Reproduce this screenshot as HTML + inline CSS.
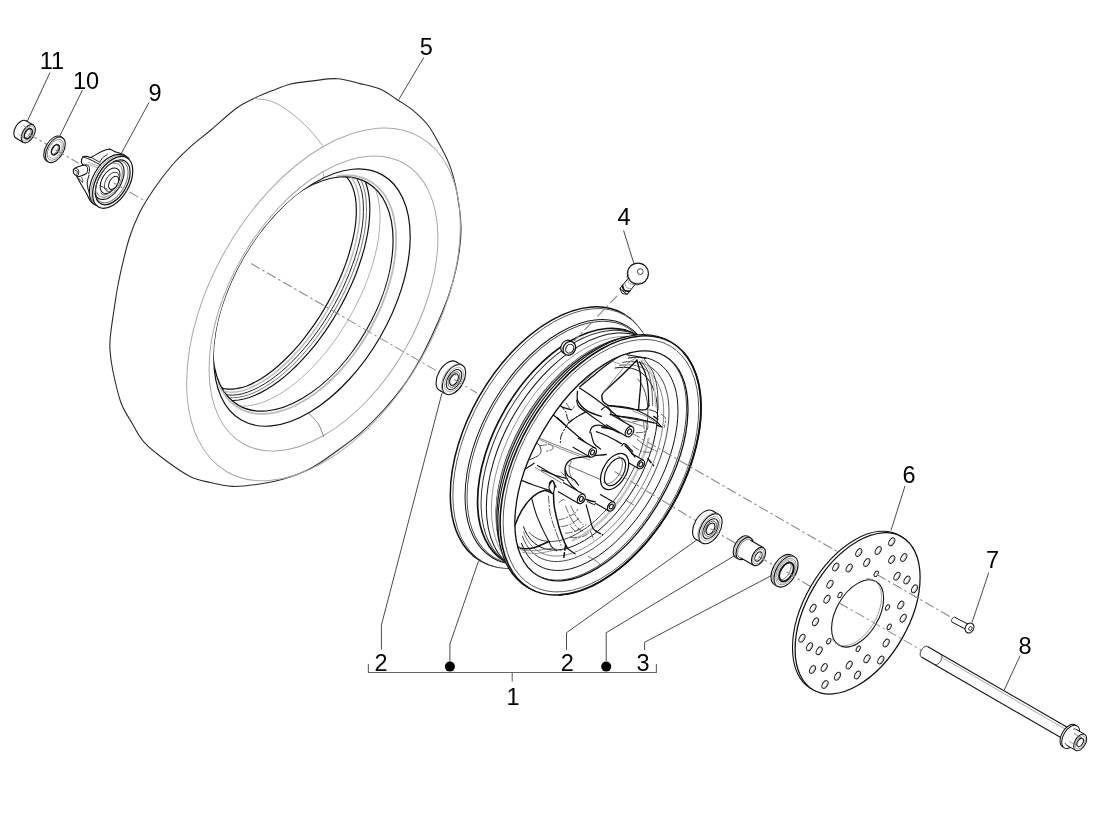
<!DOCTYPE html>
<html><head><meta charset="utf-8"><title>Front wheel</title>
<style>html,body{margin:0;padding:0;background:#fff;}body{width:1100px;height:829px;overflow:hidden;font-family:"Liberation Sans",Arial,sans-serif;}svg{display:block;}</style></head>
<body>
<svg width="1100" height="829" viewBox="0 0 1100 829" font-family="'Liberation Sans', Arial, sans-serif" fill="#000">
<path d="M110.0,350.0C109.6,344.2 109.8,341.7 110.5,335.0C111.2,328.3 112.6,319.2 114.0,310.0C115.4,300.8 116.5,291.8 119.0,280.0C121.5,268.2 125.5,250.4 129.0,239.0C132.5,227.6 135.8,220.3 140.0,211.8C144.2,203.3 149.1,196.1 154.5,188.2C159.9,180.3 166.6,171.5 172.7,164.5C178.8,157.5 184.5,152.2 190.9,146.4C197.3,140.7 203.3,136.4 210.9,130.0C218.5,123.6 229.1,113.5 236.4,108.2C243.7,102.9 248.4,101.2 254.5,98.2C260.6,95.2 266.6,92.9 272.7,90.5C278.8,88.1 284.2,85.6 290.9,84.0C297.6,82.4 305.0,81.8 312.7,80.9C320.4,80.0 329.4,78.2 337.3,78.7C345.2,79.2 352.9,81.9 360.0,83.6C367.1,85.3 373.6,86.3 380.0,89.1C386.4,91.9 392.9,96.9 398.5,100.5C404.1,104.1 408.7,106.7 413.6,110.9C418.6,115.1 424.0,120.0 428.2,125.5C432.4,130.9 435.5,137.2 439.0,143.6C442.5,149.9 446.2,156.6 449.0,163.6C451.8,170.6 453.8,177.9 455.5,185.5C457.2,193.1 458.6,202.0 459.5,209.0C460.4,216.0 460.9,221.3 461.0,227.3C461.1,233.3 460.8,238.3 460.0,245.0C459.2,251.7 458.2,259.1 456.4,267.3C454.6,275.6 452.0,285.4 449.0,294.5C446.0,303.6 442.4,312.1 438.2,321.8C434.0,331.5 428.0,344.2 423.6,352.7C419.2,361.2 415.6,367.1 412.0,373.0C408.4,378.9 406.5,382.0 401.8,388.2C397.1,394.4 390.3,402.7 383.6,410.0C376.9,417.3 369.4,425.1 361.8,431.8C354.2,438.5 346.7,443.9 338.2,450.0C329.7,456.1 320.1,463.4 311.0,468.2C301.9,473.0 292.7,476.3 283.6,479.0C274.5,481.7 264.9,483.3 256.4,484.5C247.9,485.7 240.4,486.7 232.7,486.4C225.0,486.1 217.1,484.2 210.0,482.5C202.9,480.8 197.3,480.0 190.0,476.4C182.7,472.8 174.0,466.6 166.4,461.0C158.8,455.4 150.3,449.1 144.5,442.7C138.7,436.3 135.7,429.4 131.8,422.7C127.9,416.0 124.2,411.5 121.0,402.7C117.8,393.9 114.5,378.8 112.7,370.0C110.9,361.2 110.4,355.8 110.0,350.0Z" fill="#fff" stroke="#2a2a2a" stroke-width="1.1" stroke-linejoin="round" stroke-linecap="round" />
<ellipse cx="323.5" cy="304.4" rx="111.90" ry="193.20" transform="rotate(30 323.5 304.4)" fill="none" stroke="#a8a8a8" stroke-width="1.0" />
<ellipse cx="323.5" cy="303.5" rx="93.60" ry="161.60" transform="rotate(30 323.5 303.5)" fill="none" stroke="#a8a8a8" stroke-width="1.0" />
<path d="M254.5,98.5C257.5,99.0 266.6,99.4 272.7,101.8C278.8,104.2 284.8,108.2 290.9,112.7C296.9,117.2 303.7,123.5 309.0,129.0C314.3,134.5 320.4,142.8 322.7,145.5" fill="none" stroke="#a8a8a8" stroke-width="1.0" stroke-linejoin="round" stroke-linecap="round" />
<path d="M322.7,171.3C322.9,172.2 323.8,175.0 323.6,176.4C323.4,177.8 321.9,179.0 321.5,179.5" fill="none" stroke="#a8a8a8" stroke-width="0.9" stroke-linejoin="round" stroke-linecap="round" />
<path d="M303.6,399.0C304.2,401.0 304.9,406.9 307.3,411.0C309.7,415.1 315.5,419.4 318.2,423.6C320.9,427.8 322.7,434.3 323.6,436.4" fill="none" stroke="#777" stroke-width="0.9" stroke-linejoin="round" stroke-linecap="round" />
<ellipse cx="312.0" cy="297.6" rx="78.70" ry="141.40" transform="rotate(30 312.0 297.6)" fill="#fff" stroke="#111" stroke-width="1.2" />
<clipPath id="hole1"><ellipse cx="312.0" cy="297.6" rx="78.70" ry="141.40" transform="rotate(30 312.0 297.6)"/></clipPath>
<g clip-path="url(#hole1)">
<polyline points="217.9,381.7 220.2,387.3 223.0,392.3 226.2,396.9 229.8,401.0 233.7,404.5 238.0,407.5 242.6,410.0 247.6,411.8 252.8,413.1 258.2,413.8 263.9,413.9 269.8,413.4 275.9,412.4 282.1,410.7 288.4,408.5 294.8,405.7 301.3,402.3 307.7,398.5 314.2,394.1 320.6,389.2 326.9,383.8 333.1,378.0 339.2,371.8 345.0,365.2 350.7,358.3 356.2,351.0 361.4,343.5 366.3,335.7 370.9,327.7 375.2,319.5 379.1,311.3 382.7,302.9 385.9,294.5 388.6,286.1 391.0,277.7 392.9,269.5 394.4,261.3 395.4,253.3 396.0,245.6 396.1,238.0 395.8,230.8 395.0,223.8 393.8,217.2 392.2,211.0 390.0,205.2 387.5,199.9 384.6,195.0 381.2,190.6 377.5,186.8 373.4,183.4 369.0,180.7 364.3,178.4 359.2,176.8 353.9,175.7 348.3,175.3 342.6,175.4 336.6,176.1" fill="none" stroke="#bbb" stroke-width="1.8" />
<ellipse cx="302.9" cy="294.0" rx="73.00" ry="128.60" transform="rotate(30 302.9 294.0)" fill="#fff" stroke="#111" stroke-width="1.2" />
</g>
<clipPath id="hole"><ellipse cx="302.9" cy="294.0" rx="73.00" ry="128.60" transform="rotate(30 302.9 294.0)"/></clipPath>
<g clip-path="url(#hole)">
<polyline points="208.6,383.2 210.9,387.9 213.7,392.1 216.8,395.8 220.3,399.0 224.2,401.6 228.4,403.6 232.9,405.1 237.6,405.9 242.7,406.2 248.0,405.9 253.4,405.0 259.1,403.5 264.9,401.5 270.9,398.8 277.0,395.7 283.1,391.9 289.3,387.7 295.4,383.0 301.6,377.7 307.7,372.1 313.8,366.0 319.7,359.5 325.5,352.6 331.1,345.5 336.5,338.0 341.7,330.3 346.7,322.3 351.4,314.2 355.8,305.9 359.9,297.5 363.7,289.1 367.1,280.6 370.1,272.2 372.8,263.8 375.0,255.5 376.9,247.4 378.3,239.4 379.3,231.7 379.9,224.2 380.1,217.1 379.8,210.2 379.1,203.8 378.0,197.7 376.4,192.0 374.4,186.8 372.1,182.1 369.3,177.9 366.2,174.2 362.7,171.0 358.8,168.4 354.6,166.4 350.1,164.9 345.4,164.1 340.3,163.8 335.0,164.1" fill="none" stroke="#999" stroke-width="0.8" />
<polyline points="201.1,378.4 203.3,383.0 205.9,387.1 208.8,390.7 212.1,393.8 215.8,396.3 219.8,398.2 224.1,399.5 228.7,400.3 233.5,400.5 238.6,400.0 243.9,399.0 249.4,397.5 255.0,395.3 260.8,392.6 266.7,389.3 272.7,385.5 278.7,381.2 284.8,376.4 290.8,371.1 296.9,365.3 302.8,359.2 308.6,352.7 314.4,345.8 319.9,338.6 325.3,331.1 330.5,323.3 335.5,315.3 340.1,307.2 344.6,298.9 348.7,290.6 352.5,282.2 356.0,273.7 359.1,265.3 361.8,257.0 364.2,248.8 366.1,240.7 367.7,232.8 368.8,225.2 369.5,217.8 369.8,210.7 369.7,204.0 369.2,197.6 368.2,191.6 366.8,186.1 365.1,181.0 362.9,176.4 360.3,172.3 357.4,168.7 354.1,165.6 350.4,163.1 346.4,161.2 342.1,159.9 337.5,159.1 332.7,158.9 327.6,159.4" fill="none" stroke="#111" stroke-width="1.2" />
<polyline points="201.9,376.5 204.0,381.0 206.5,385.0 209.3,388.5 212.5,391.4 216.0,393.8 219.8,395.7 224.0,396.9 228.4,397.7 233.1,397.8 238.0,397.4 243.2,396.3 248.5,394.8 254.0,392.6 259.7,389.9 265.4,386.7 271.2,382.9 277.1,378.7 283.0,373.9 288.9,368.7 294.8,363.1 300.5,357.0 306.3,350.6 311.8,343.8 317.3,336.7 322.6,329.4 327.6,321.8 332.5,314.0 337.1,306.0 341.4,297.9 345.5,289.7 349.2,281.4 352.6,273.2 355.7,265.0 358.4,256.8 360.8,248.8 362.7,240.9 364.3,233.2 365.4,225.7 366.2,218.5 366.5,211.5 366.4,204.9 366.0,198.7 365.1,192.9 363.8,187.5 362.1,182.5 360.0,178.0 357.5,174.0 354.7,170.5 351.5,167.6 348.0,165.2 344.2,163.3 340.0,162.1 335.6,161.3 330.9,161.2 326.0,161.6" fill="none" stroke="#555" stroke-width="0.8" />
<polyline points="202.7,374.5 204.7,378.9 207.0,382.8 209.8,386.2 212.8,389.0 216.2,391.4 220.0,393.1 224.0,394.4 228.3,395.0 232.8,395.1 237.6,394.7 242.6,393.7 247.8,392.1 253.2,389.9 258.6,387.3 264.2,384.1 269.9,380.4 275.6,376.2 281.4,371.5 287.2,366.4 292.9,360.8 298.5,354.9 304.1,348.6 309.6,341.9 314.9,335.0 320.1,327.7 325.0,320.3 329.8,312.6 334.3,304.8 338.6,296.8 342.6,288.8 346.2,280.7 349.6,272.6 352.6,264.5 355.3,256.6 357.6,248.7 359.6,240.9 361.1,233.4 362.3,226.1 363.1,219.0 363.4,212.3 363.4,205.8 363.0,199.7 362.2,194.0 360.9,188.7 359.3,183.9 357.3,179.5 355.0,175.6 352.2,172.2 349.2,169.4 345.8,167.0 342.0,165.3 338.0,164.0 333.7,163.4 329.2,163.3 324.4,163.7" fill="none" stroke="#222" stroke-width="1.0" />
<polyline points="203.4,372.2 205.3,376.5 207.6,380.2 210.2,383.5 213.2,386.3 216.4,388.6 220.0,390.3 223.9,391.5 228.1,392.1 232.5,392.2 237.1,391.7 242.0,390.7 247.0,389.1 252.2,387.0 257.5,384.4 263.0,381.2 268.5,377.6 274.1,373.5 279.7,368.9 285.3,363.9 290.8,358.5 296.3,352.6 301.8,346.5 307.1,340.0 312.3,333.2 317.3,326.1 322.2,318.8 326.8,311.3 331.2,303.7 335.4,295.9 339.3,288.0 342.9,280.2 346.2,272.3 349.2,264.4 351.8,256.6 354.1,248.9 356.0,241.4 357.5,234.0 358.7,226.9 359.5,220.0 359.9,213.4 359.9,207.1 359.5,201.2 358.7,195.7 357.6,190.5 356.0,185.8 354.1,181.5 351.8,177.8 349.2,174.5 346.2,171.7 342.9,169.4 339.4,167.7 335.5,166.5 331.3,165.9 326.9,165.8 322.3,166.3" fill="none" stroke="#bbb" stroke-width="1.5" />
<polyline points="204.2,370.0 206.0,374.2 208.2,377.8 210.7,381.0 213.5,383.7 216.7,385.8 220.2,387.5 223.9,388.6 227.9,389.2 232.2,389.2 236.6,388.7 241.3,387.7 246.2,386.2 251.2,384.1 256.3,381.5 261.6,378.4 267.0,374.8 272.4,370.7 277.8,366.3 283.2,361.3 288.6,356.0 294.0,350.3 299.3,344.3 304.5,337.9 309.5,331.2 314.4,324.3 319.2,317.2 323.7,309.9 328.0,302.4 332.1,294.8 335.9,287.1 339.4,279.4 342.7,271.7 345.6,264.1 348.2,256.5 350.4,249.0 352.3,241.6 353.9,234.5 355.1,227.5 355.9,220.8 356.3,214.4 356.3,208.3 356.0,202.5 355.3,197.1 354.2,192.1 352.8,187.6 351.0,183.4 348.8,179.8 346.3,176.6 343.5,173.9 340.3,171.8 336.8,170.1 333.1,169.0 329.1,168.4 324.8,168.4 320.4,168.9" fill="none" stroke="#111" stroke-width="1.2" />
</g>
<line x1="251.0" y1="263.6" x2="441.0" y2="373.3" stroke="#8c8c8c" stroke-width="1.1" stroke-dasharray="10 3 2.5 3"/>
<ellipse cx="20.9" cy="129.4" rx="5.77" ry="10.00" transform="rotate(30 20.9 129.4)" fill="#fff" stroke="#111" stroke-width="1.1" />
<polygon points="15.9,138.1 23.3,142.4 33.3,125.0 25.9,120.8" fill="#fff" stroke="none" stroke-width="1.0" stroke-linejoin="round" />
<line x1="15.9" y1="138.1" x2="23.3" y2="142.4" stroke="#111" stroke-width="1.1" />
<line x1="25.9" y1="120.8" x2="33.3" y2="125.0" stroke="#111" stroke-width="1.1" />
<ellipse cx="28.3" cy="133.7" rx="5.77" ry="10.00" transform="rotate(30 28.3 133.7)" fill="#fff" stroke="#111" stroke-width="1.1" />
<line x1="23.2" y1="125.6" x2="30.6" y2="129.8" stroke="#aaa" stroke-width="1.2" />
<line x1="18.2" y1="134.2" x2="25.6" y2="138.5" stroke="#aaa" stroke-width="0.8" />
<ellipse cx="28.3" cy="133.7" rx="4.79" ry="8.30" transform="rotate(30 28.3 133.7)" fill="none" stroke="#888" stroke-width="0.7" />
<ellipse cx="28.3" cy="133.7" rx="3.23" ry="5.60" transform="rotate(30 28.3 133.7)" fill="none" stroke="#111" stroke-width="1.6" />
<polyline points="23.3,137.2 23.5,137.4 23.7,137.5 23.9,137.6 24.1,137.7 24.3,137.8 24.5,137.8 24.8,137.8 25.0,137.8 25.3,137.8 25.5,137.7 25.8,137.6 26.1,137.5 26.4,137.4 26.6,137.2 26.9,137.1 27.2,136.9 27.5,136.6 27.7,136.4 28.0,136.1 28.2,135.9 28.5,135.6 28.7,135.3 29.0,135.0 29.2,134.7 29.4,134.3 29.6,134.0 29.7,133.6 29.9,133.3 30.0,132.9 30.2,132.6 30.3,132.2 30.4,131.9 30.4,131.5 30.5,131.2 30.5,130.8 30.5,130.5 30.5,130.2 30.5,129.9 30.5,129.6 30.4,129.3 30.3,129.0 30.2,128.8 30.1,128.6 30.0,128.4 29.8,128.2 29.6,128.0 29.5,127.9 29.3,127.8 29.1,127.7 28.8,127.6" fill="none" stroke="#444" stroke-width="0.7" />
<line x1="28.3" y1="133.7" x2="50.0" y2="146.3" stroke="#8c8c8c" stroke-width="1.1" stroke-dasharray="10 3 2.5 3"/>
<ellipse cx="53.7" cy="148.8" rx="8.08" ry="14.00" transform="rotate(30 53.7 148.8)" fill="#fff" stroke="#111" stroke-width="1.1" />
<polygon points="46.7,160.9 48.4,161.9 62.4,137.7 60.7,136.7" fill="#fff" stroke="none" stroke-width="1.0" stroke-linejoin="round" />
<line x1="46.7" y1="160.9" x2="48.4" y2="161.9" stroke="#111" stroke-width="1.1" />
<line x1="60.7" y1="136.7" x2="62.4" y2="137.7" stroke="#111" stroke-width="1.1" />
<ellipse cx="55.4" cy="149.8" rx="8.08" ry="14.00" transform="rotate(30 55.4 149.8)" fill="#fff" stroke="#111" stroke-width="1.1" />
<ellipse cx="55.4" cy="149.8" rx="6.64" ry="11.50" transform="rotate(30 55.4 149.8)" fill="none" stroke="#777" stroke-width="0.8" />
<polyline points="49.0,155.4 49.2,155.9 49.3,156.3 49.5,156.6 49.8,157.0 50.0,157.3 50.3,157.5 50.6,157.8 50.9,158.0 51.3,158.1 51.7,158.2 52.1,158.3 52.5,158.3 52.9,158.3 53.3,158.2 53.8,158.1 54.2,158.0 54.7,157.8 55.1,157.5 55.6,157.3 56.1,157.0 56.5,156.6 57.0,156.3 57.4,155.9 57.8,155.4 58.3,155.0 58.7,154.5 59.1,154.0 59.4,153.4 59.8,152.9 60.1,152.3 60.4,151.8 60.7,151.2 61.0,150.6 61.2,150.0 61.4,149.4 61.6,148.8 61.7,148.2 61.8,147.6 61.9,147.0 62.0,146.5 62.0,145.9 62.0,145.4 61.9,144.9 61.8,144.4 61.7,144.0 61.6,143.6 61.4,143.2 61.2,142.8 60.9,142.5 60.7,142.2 60.4,142.0 60.1,141.8 59.7,141.6 59.4,141.5 59.0,141.4 58.6,141.3 58.2,141.3" fill="none" stroke="#888" stroke-width="0.7" />
<ellipse cx="55.4" cy="149.8" rx="3.23" ry="5.60" transform="rotate(30 55.4 149.8)" fill="none" stroke="#111" stroke-width="1.6" />
<polyline points="50.9,153.5 51.0,153.7 51.2,153.8 51.4,154.0 51.6,154.0 51.8,154.1 52.1,154.1 52.3,154.2 52.6,154.2 52.8,154.1 53.1,154.1 53.3,154.0 53.6,153.9 53.9,153.7 54.2,153.6 54.4,153.4 54.7,153.2 55.0,153.0 55.3,152.8 55.5,152.5 55.8,152.2 56.0,151.9 56.3,151.6 56.5,151.3 56.7,151.0 56.9,150.7 57.1,150.3 57.3,150.0 57.4,149.6 57.6,149.3 57.7,148.9 57.8,148.6 57.9,148.2 58.0,147.9 58.0,147.5 58.0,147.2 58.1,146.8 58.1,146.5 58.0,146.2 58.0,145.9 57.9,145.7 57.8,145.4 57.7,145.2 57.6,144.9 57.5,144.7 57.3,144.6 57.2,144.4 57.0,144.3 56.8,144.1 56.6,144.1 56.4,144.0" fill="none" stroke="#555" stroke-width="0.7" />
<line x1="55.4" y1="149.8" x2="79.0" y2="163.4" stroke="#8c8c8c" stroke-width="1.1" stroke-dasharray="10 3 2.5 3"/>
<path d="M109.5,149.1C108.4,149.4 105.8,149.5 102.7,150.9C99.6,152.3 93.5,156.4 90.9,157.3C88.3,158.2 88.6,156.4 87.3,156.4C86.0,156.3 84.2,156.0 83.2,156.8C82.2,157.7 81.4,160.0 81.4,161.4C81.3,162.7 82.5,164.4 82.7,165.0" fill="#fff" stroke="#111" stroke-width="1.1" stroke-linejoin="round" stroke-linecap="round" />
<path d="M109.5,149.1C110.4,149.5 112.2,150.5 114.5,151.4C116.9,152.3 121.2,153.3 123.6,154.5C126.1,155.8 128.2,158.0 129.1,158.6" fill="none" stroke="#111" stroke-width="1.1" stroke-linejoin="round" stroke-linecap="round" />
<path d="M84.1,165.0C82.9,165.4 78.6,166.5 76.8,167.3C75.1,168.0 74.2,168.6 73.6,169.5C73.1,170.5 73.1,172.1 73.6,173.2C74.2,174.2 75.8,175.4 76.8,175.9C77.8,176.4 78.0,176.7 79.5,176.4C81.1,176.0 85.2,174.1 86.4,173.6" fill="#fff" stroke="#111" stroke-width="1.1" stroke-linejoin="round" stroke-linecap="round" />
<path d="M73.6,169.5C74.1,169.3 75.5,168.0 76.4,168.2C77.2,168.4 78.3,169.8 78.6,170.9C78.9,172.0 78.6,174.2 78.2,175.0C77.8,175.8 76.7,175.8 76.4,175.9" fill="none" stroke="#111" stroke-width="0.9" stroke-linejoin="round" stroke-linecap="round" />
<path d="M75.0,170.9C75.2,170.8 76.0,170.2 76.4,170.5C76.7,170.7 77.2,171.7 77.3,172.3C77.3,172.9 76.9,173.8 76.8,174.1" fill="none" stroke="#111" stroke-width="0.9" stroke-linejoin="round" stroke-linecap="round" />
<path d="M83.2,165.0C83.7,165.2 85.6,165.2 86.4,165.9C87.1,166.7 87.7,168.3 87.7,169.5C87.8,170.8 87.0,172.6 86.8,173.2" fill="none" stroke="#111" stroke-width="1.0" stroke-linejoin="round" stroke-linecap="round" />
<path d="M85.0,164.5C85.6,164.8 87.9,165.0 88.6,165.9C89.4,166.8 89.5,168.7 89.5,170.0C89.5,171.3 88.8,173.0 88.6,173.6" fill="none" stroke="#111" stroke-width="0.9" stroke-linejoin="round" stroke-linecap="round" />
<path d="M82.7,156.8C83.9,157.3 86.8,158.1 90.0,159.5C93.2,161.0 99.8,164.5 101.8,165.5" fill="none" stroke="#111" stroke-width="1.0" stroke-linejoin="round" stroke-linecap="round" />
<path d="M90.9,157.3C92.4,158.1 98.5,161.4 100.0,162.3" fill="none" stroke="#111" stroke-width="0.9" stroke-linejoin="round" stroke-linecap="round" />
<path d="M87.3,164.1C89.1,164.8 96.1,167.0 98.2,168.2C100.3,169.4 99.7,170.8 100.0,171.4" fill="none" stroke="#888" stroke-width="0.7" stroke-linejoin="round" stroke-linecap="round" />
<path d="M88.2,162.3C90.0,163.0 97.3,165.7 99.1,166.4" fill="none" stroke="#888" stroke-width="0.7" stroke-linejoin="round" stroke-linecap="round" />
<path d="M76.8,176.4C77.5,177.7 79.3,181.3 80.9,184.1C82.5,186.9 84.8,190.5 86.4,193.2C87.9,195.9 88.8,198.6 90.0,200.5C91.2,202.3 93.0,203.5 93.6,204.1" fill="none" stroke="#111" stroke-width="1.1" stroke-linejoin="round" stroke-linecap="round" />
<path d="M78.2,177.7C78.9,178.5 82.1,182.3 82.7,182.3C83.3,182.3 82.0,178.5 81.8,177.7" fill="none" stroke="#111" stroke-width="0.8" stroke-linejoin="round" stroke-linecap="round" />
<path d="M89.1,175.0C88.8,176.2 87.4,179.8 87.3,182.3C87.1,184.7 87.6,187.0 88.2,189.5C88.8,192.1 90.5,196.4 90.9,197.7" fill="none" stroke="#111" stroke-width="1.0" stroke-linejoin="round" stroke-linecap="round" />
<ellipse cx="109.4" cy="180.4" rx="16.40" ry="28.40" transform="rotate(30 109.4 180.4)" fill="#fff" stroke="#111" stroke-width="1.1" />
<polyline points="127.5,158.6 126.7,157.7 125.7,157.1 124.8,156.5 123.7,156.0 122.6,155.7 121.4,155.5 120.2,155.4 118.9,155.5 117.6,155.6 116.3,156.0 114.9,156.4 113.5,156.9 112.1,157.6 110.7,158.4 109.3,159.3 107.9,160.3 106.5,161.4 105.2,162.6 103.9,163.9 102.6,165.2 101.3,166.7 100.1,168.2 99.0,169.8 97.9,171.5 96.9,173.2 95.9,174.9 95.0,176.7 94.2,178.4 93.5,180.2 92.9,182.1 92.3,183.9 91.8,185.7 91.5,187.4 91.2,189.2 91.0,190.9 91.0,192.5 91.0,194.1 91.1,195.7 91.3,197.2 91.7,198.6 92.1,199.9 92.6,201.1 93.2,202.2 93.8,203.2 94.6,204.1 95.4,205.0 96.4,205.6 97.4,206.2 98.4,206.7 99.5,207.0" fill="none" stroke="#666" stroke-width="0.7" />
<ellipse cx="112.7" cy="182.3" rx="16.40" ry="28.40" transform="rotate(30 112.7 182.3)" fill="#fff" stroke="#111" stroke-width="1.2" />
<ellipse cx="112.7" cy="182.3" rx="14.20" ry="24.60" transform="rotate(30 112.7 182.3)" fill="none" stroke="#111" stroke-width="1.2" />
<ellipse cx="111.8" cy="181.8" rx="13.28" ry="23.00" transform="rotate(30 111.8 181.8)" fill="none" stroke="#555" stroke-width="0.8" />
<polyline points="94.9,193.0 95.2,194.0 95.6,194.9 96.0,195.7 96.5,196.5 97.1,197.2 97.7,197.8 98.4,198.3 99.1,198.7 99.9,199.0 100.7,199.3 101.6,199.4 102.5,199.5 103.4,199.4 104.4,199.3 105.4,199.1 106.4,198.8 107.4,198.4 108.5,197.9 109.5,197.3 110.5,196.6 111.6,195.9 112.6,195.1 113.6,194.2 114.6,193.2 115.5,192.2 116.4,191.1 117.3,190.0 118.2,188.8 119.0,187.6 119.7,186.4 120.4,185.1 121.1,183.8 121.7,182.4 122.2,181.1 122.7,179.8 123.1,178.4 123.4,177.1 123.7,175.8 123.9,174.5 124.0,173.3 124.1,172.0 124.1,170.8 124.0,169.7 123.8,168.6 123.6,167.6 123.3,166.6 122.9,165.7 122.5,164.9 122.0,164.1 121.4,163.4 120.8,162.8 120.1,162.3 119.4,161.9 118.6,161.6 117.8,161.3 116.9,161.2 116.0,161.1 115.0,161.2 114.1,161.3 113.1,161.5" fill="none" stroke="#111" stroke-width="1.1" />
<polyline points="96.6,191.5 96.9,192.4 97.2,193.2 97.6,193.9 98.0,194.6 98.5,195.2 99.1,195.7 99.7,196.1 100.3,196.5 101.0,196.8 101.7,197.0 102.5,197.1 103.3,197.2 104.1,197.2 105.0,197.0 105.9,196.8 106.7,196.6 107.6,196.2 108.6,195.8 109.5,195.3 110.4,194.7 111.3,194.0 112.2,193.3 113.1,192.5 113.9,191.7 114.8,190.8 115.6,189.9 116.4,188.9 117.1,187.8 117.8,186.7 118.5,185.6 119.1,184.5 119.7,183.4 120.2,182.2 120.7,181.0 121.1,179.8 121.4,178.7 121.7,177.5 122.0,176.3 122.2,175.2 122.3,174.1 122.3,173.0 122.3,172.0 122.2,171.0 122.1,170.0 121.9,169.1 121.6,168.2 121.3,167.4 120.9,166.7 120.4,166.0 120.0,165.4 119.4,164.9 118.8,164.5 118.2,164.1 117.5,163.8 116.7,163.6 116.0,163.5 115.2,163.4 114.3,163.4 113.5,163.6 112.6,163.8" fill="none" stroke="#555" stroke-width="0.8" />
<ellipse cx="110.1" cy="180.8" rx="8.08" ry="14.00" transform="rotate(30 110.1 180.8)" fill="none" stroke="#111" stroke-width="1.0" />
<ellipse cx="111.8" cy="181.8" rx="6.06" ry="10.50" transform="rotate(30 111.8 181.8)" fill="none" stroke="#444" stroke-width="0.9" />
<ellipse cx="113.6" cy="182.8" rx="4.16" ry="7.20" transform="rotate(30 113.6 182.8)" fill="#fff" stroke="#111" stroke-width="1.0" />
<path d="M100.0,185.9C100.6,186.1 102.4,186.7 103.6,187.3C104.8,187.9 106.7,189.2 107.3,189.5" fill="none" stroke="#111" stroke-width="0.8" stroke-linejoin="round" stroke-linecap="round" />
<path d="M100.9,193.2C101.4,193.5 102.6,194.8 103.6,195.0C104.7,195.2 106.7,194.2 107.3,194.1" fill="none" stroke="#111" stroke-width="0.8" stroke-linejoin="round" stroke-linecap="round" />
<path d="M107.3,154.5C106.5,155.1 103.9,156.5 102.7,157.7C101.5,158.9 100.5,161.1 100.0,161.8" fill="none" stroke="#111" stroke-width="0.9" stroke-linejoin="round" stroke-linecap="round" />
<line x1="113.6" y1="182.8" x2="146.0" y2="201.6" stroke="#8c8c8c" stroke-width="1.1" stroke-dasharray="10 3 2.5 3"/>
<ellipse cx="447.7" cy="376.0" rx="9.53" ry="16.50" transform="rotate(30 447.7 376.0)" fill="#fff" stroke="#111" stroke-width="1.1" />
<polygon points="439.4,390.2 445.8,393.9 462.2,365.3 455.9,361.7" fill="#fff" stroke="none" stroke-width="1.0" stroke-linejoin="round" />
<line x1="439.4" y1="390.2" x2="445.8" y2="393.9" stroke="#111" stroke-width="1.1" />
<line x1="455.9" y1="361.7" x2="462.2" y2="365.3" stroke="#111" stroke-width="1.1" />
<ellipse cx="454.0" cy="379.6" rx="9.53" ry="16.50" transform="rotate(30 454.0 379.6)" fill="#fff" stroke="#111" stroke-width="1.1" />
<polyline points="462.3,366.0 461.9,365.5 461.3,365.1 460.8,364.8 460.2,364.6 459.5,364.4 458.9,364.3 458.2,364.2 457.4,364.2 456.7,364.3 455.9,364.5 455.1,364.8 454.4,365.1 453.6,365.4 452.8,365.9 452.0,366.4 451.2,367.0 450.4,367.6 449.6,368.3 448.9,369.0 448.1,369.8 447.4,370.6 446.7,371.5 446.1,372.4 445.4,373.4 444.9,374.3 444.3,375.3 443.8,376.3 443.4,377.3 442.9,378.4 442.6,379.4 442.3,380.4 442.0,381.5 441.8,382.5 441.6,383.5 441.5,384.4 441.5,385.4 441.5,386.3 441.6,387.2 441.7,388.0 441.9,388.8 442.1,389.6 442.4,390.3 442.8,390.9 443.1,391.5 443.6,392.0 444.1,392.5 444.6,392.9 445.1,393.2 445.8,393.4 446.4,393.6" fill="none" stroke="#777" stroke-width="0.7" />
<ellipse cx="454.0" cy="379.6" rx="7.79" ry="13.50" transform="rotate(30 454.0 379.6)" fill="none" stroke="#999" stroke-width="0.7" />
<ellipse cx="454.0" cy="379.6" rx="6.35" ry="11.00" transform="rotate(30 454.0 379.6)" fill="none" stroke="#111" stroke-width="1.0" />
<ellipse cx="454.0" cy="379.6" rx="4.91" ry="8.50" transform="rotate(30 454.0 379.6)" fill="none" stroke="#555" stroke-width="0.8" />
<ellipse cx="454.0" cy="379.6" rx="3.64" ry="6.30" transform="rotate(30 454.0 379.6)" fill="none" stroke="#111" stroke-width="1.1" />
<polyline points="455.8,375.4 455.7,375.2 455.5,375.1 455.4,374.9 455.3,374.8 455.1,374.7 454.9,374.6 454.7,374.5 454.5,374.5 454.3,374.5 454.1,374.5 453.9,374.5 453.7,374.5 453.5,374.6 453.2,374.7 453.0,374.8 452.8,374.9 452.5,375.0 452.3,375.2 452.1,375.4 451.8,375.6 451.6,375.8 451.4,376.0 451.2,376.2 451.0,376.5 450.8,376.8 450.6,377.0 450.4,377.3 450.2,377.6 450.1,377.9 449.9,378.2 449.8,378.5 449.7,378.8 449.6,379.1 449.5,379.4 449.4,379.7 449.4,380.0 449.3,380.3 449.3,380.6 449.3,380.9 449.3,381.1 449.3,381.4 449.4,381.6 449.5,381.9 449.5,382.1 449.6,382.3 449.7,382.5 449.9,382.6 450.0,382.8 450.1,382.9 450.3,383.0 450.5,383.1 450.7,383.2 450.9,383.2 451.1,383.2 451.3,383.2" fill="none" stroke="#555" stroke-width="0.8" />
<line x1="454.0" y1="379.6" x2="477.0" y2="392.9" stroke="#8c8c8c" stroke-width="1.1" stroke-dasharray="10 3 2.5 3"/>
<ellipse cx="551.8" cy="437.3" rx="83.32" ry="142.80" transform="rotate(30 551.8 437.3)" fill="#fff" stroke="#111" stroke-width="1.5" />
<ellipse cx="554.0" cy="438.6" rx="83.03" ry="142.30" transform="rotate(30 554.0 438.6)" fill="#fff" stroke="#444" stroke-width="0.8" />
<ellipse cx="559.8" cy="441.9" rx="77.37" ry="134.00" transform="rotate(30 559.8 441.9)" fill="#fff" stroke="#111" stroke-width="1.0" />
<ellipse cx="561.1" cy="442.7" rx="76.79" ry="133.00" transform="rotate(30 561.1 442.7)" fill="#fff" stroke="#444" stroke-width="0.9" />
<ellipse cx="570.2" cy="447.9" rx="75.64" ry="131.00" transform="rotate(30 570.2 447.9)" fill="#fff" stroke="#111" stroke-width="1.7" />
<ellipse cx="573.7" cy="449.9" rx="75.64" ry="131.00" transform="rotate(30 573.7 449.9)" fill="#fff" stroke="#333" stroke-width="1.0" />
<ellipse cx="579.7" cy="453.4" rx="76.22" ry="132.00" transform="rotate(30 579.7 453.4)" fill="#fff" stroke="#111" stroke-width="1.0" />
<ellipse cx="584.0" cy="455.9" rx="75.64" ry="131.00" transform="rotate(30 584.0 455.9)" fill="#fff" stroke="#888" stroke-width="0.8" />
<ellipse cx="590.1" cy="459.4" rx="76.79" ry="133.00" transform="rotate(30 590.1 459.4)" fill="#fff" stroke="#111" stroke-width="1.1" />
<ellipse cx="592.3" cy="460.7" rx="78.24" ry="135.50" transform="rotate(30 592.3 460.7)" fill="#fff" stroke="#aaa" stroke-width="2.0" />
<ellipse cx="594.4" cy="461.9" rx="79.68" ry="138.00" transform="rotate(30 594.4 461.9)" fill="#fff" stroke="#111" stroke-width="1.1" />
<ellipse cx="567.1" cy="347.1" rx="6.00" ry="7.20" transform="rotate(30 567.1 347.1)" fill="#fff" stroke="#111" stroke-width="1.1" />
<ellipse cx="569.3" cy="348.3" rx="6.00" ry="7.20" transform="rotate(30 569.3 348.3)" fill="#fff" stroke="#111" stroke-width="1.3" />
<ellipse cx="569.7" cy="348.6" rx="3.80" ry="4.60" transform="rotate(30 569.7 348.6)" fill="none" stroke="#111" stroke-width="1.0" />
<ellipse cx="598.3" cy="464.2" rx="81.99" ry="142.00" transform="rotate(30 598.3 464.2)" fill="#fff" stroke="#111" stroke-width="1.1" />
<ellipse cx="600.5" cy="465.4" rx="81.99" ry="142.00" transform="rotate(30 600.5 465.4)" fill="#fff" stroke="#111" stroke-width="1.6" />
<polyline points="558.7,594.9 565.2,594.3 571.9,593.1 578.8,591.3 585.7,588.8 592.8,585.7 599.8,582.0 606.9,577.7 614.0,572.9 621.0,567.5 627.9,561.6 634.6,555.2 641.2,548.4 647.6,541.2 653.7,533.6 659.6,525.6 665.2,517.4 670.5,508.9 675.4,500.2 680.0,491.3 684.1,482.3 687.9,473.2 691.2,464.0 694.0,454.9 696.4,445.8 698.3,436.8 699.8,428.0 700.7,419.3 701.1,410.9 701.0,402.8 700.5,395.0 699.4,387.5 697.9,380.4 695.8,373.8 693.3,367.6 690.3,361.9 686.9,356.7 683.0,352.0" fill="none" stroke="#111" stroke-width="1.6" />
<ellipse cx="600.9" cy="465.7" rx="79.85" ry="138.30" transform="rotate(30 600.9 465.7)" fill="none" stroke="#444" stroke-width="0.8" />
<ellipse cx="601.4" cy="465.9" rx="68.00" ry="126.90" transform="rotate(30 601.4 465.9)" fill="none" stroke="#111" stroke-width="1.3" />
<clipPath id="lip"><ellipse cx="601.4" cy="465.9" rx="68.00" ry="126.90" transform="rotate(30 601.4 465.9)"/></clipPath>
<g clip-path="url(#lip)">
<polyline points="520.2,556.7 522.8,561.4 525.7,565.5 529.0,569.2 532.6,572.4 536.5,575.0 540.8,577.1 545.3,578.7 550.2,579.7 555.2,580.1 560.5,580.0 566.0,579.3 571.6,578.1 577.4,576.3 583.3,574.0 589.2,571.1 595.2,567.8 601.3,563.9 607.3,559.6 613.3,554.7 619.3,549.5 625.1,543.8 630.8,537.8 636.4,531.4 641.8,524.7 647.0,517.7 651.9,510.4 656.6,502.9 661.0,495.3 665.2,487.4 669.0,479.5 672.5,471.5 675.6,463.5 678.4,455.5 680.7,447.5 682.7,439.6 684.3,431.8 685.4,424.2 686.2,416.8 686.5,409.7 686.4,402.8 685.9,396.2 685.0,389.9 683.7,384.0 681.9,378.5 679.7,373.5 677.2,368.8 674.3,364.7 671.0,361.0 667.4,357.8 663.4,355.2 659.2,353.1 654.6,351.5 649.8,350.5 644.7,350.1 639.5,350.2" fill="none" stroke="#333" stroke-width="0.9" />
<polyline points="521.3,542.9 523.3,547.7 525.5,552.2 528.2,556.1 531.2,559.7 534.5,562.7 538.1,565.3 542.1,567.4 546.3,568.9 550.7,569.9 555.4,570.4 560.3,570.4 565.4,569.9 570.7,568.8 576.0,567.2 581.5,565.1 587.1,562.4 592.7,559.3 598.4,555.8 604.0,551.7 609.6,547.3 615.2,542.4 620.6,537.1 626.0,531.5 631.2,525.5 636.3,519.2 641.1,512.7 645.8,505.9 650.2,498.9 654.3,491.7 658.2,484.4 661.7,477.0 665.0,469.5 667.9,462.0 670.5,454.5 672.7,447.0 674.5,439.6 675.9,432.4 677.0,425.3 677.7,418.4 678.0,411.7 677.8,405.3 677.3,399.1 676.4,393.3 675.1,387.9 673.4,382.8 671.3,378.1 668.9,373.8 666.1,370.0 663.0,366.7 659.6,363.8 655.8,361.5 651.8,359.6 647.5,358.2 642.9,357.4 638.1,357.1 633.2,357.4 628.0,358.1" fill="none" stroke="#111" stroke-width="1.0" />
<polyline points="522.3,535.7 524.0,540.2 526.2,544.3 528.7,548.1 531.5,551.4 534.6,554.3 538.0,556.7 541.7,558.6 545.6,560.0 549.8,561.0 554.2,561.5 558.8,561.5 563.5,560.9 568.5,559.9 573.5,558.4 578.6,556.4 583.9,554.0 589.1,551.1 594.4,547.7 599.7,543.9 605.0,539.8 610.2,535.2 615.3,530.2 620.3,525.0 625.2,519.4 629.9,513.5 634.5,507.3 638.8,501.0 643.0,494.4 646.8,487.7 650.5,480.8 653.8,473.9 656.8,466.9 659.6,459.8 662.0,452.8 664.0,445.8 665.8,438.9 667.1,432.1 668.1,425.5 668.8,419.0 669.0,412.7 668.9,406.7 668.4,401.0 667.6,395.5 666.3,390.4 664.8,385.6 662.8,381.2 660.5,377.3 657.9,373.7 655.0,370.5 651.8,367.9 648.3,365.6 644.5,363.9 640.5,362.6 636.2,361.9 631.7,361.6 627.0,361.8 622.2,362.5" fill="none" stroke="#333" stroke-width="0.9" />
<polyline points="523.4,531.3 525.1,535.6 527.1,539.6 529.5,543.2 532.2,546.3 535.2,549.1 538.4,551.4 541.9,553.2 545.7,554.6 549.7,555.5 553.9,556.0 558.3,556.0 562.9,555.5 567.6,554.5 572.4,553.1 577.3,551.2 582.3,548.8 587.3,546.0 592.4,542.8 597.5,539.2 602.5,535.2 607.5,530.8 612.4,526.1 617.2,521.0 621.8,515.7 626.4,510.1 630.7,504.2 634.9,498.1 638.8,491.8 642.5,485.4 646.0,478.8 649.2,472.2 652.1,465.5 654.7,458.7 657.0,452.0 659.0,445.3 660.6,438.7 661.9,432.2 662.9,425.9 663.5,419.7 663.7,413.7 663.6,407.9 663.2,402.4 662.4,397.2 661.2,392.3 659.7,387.8 657.8,383.6 655.6,379.8 653.2,376.4 650.4,373.4 647.3,370.8 643.9,368.7 640.3,367.0 636.4,365.8 632.4,365.0 628.1,364.8 623.6,365.0 619.0,365.7" fill="none" stroke="#666" stroke-width="0.8" />
<polyline points="523.4,526.4 525.0,530.5 527.0,534.3 529.3,537.7 531.8,540.8 534.7,543.4 537.8,545.6 541.1,547.3 544.7,548.7 548.6,549.5 552.6,550.0 556.8,550.0 561.1,549.5 565.6,548.6 570.2,547.2 574.9,545.4 579.7,543.1 584.5,540.5 589.3,537.4 594.2,534.0 599.0,530.1 603.7,525.9 608.4,521.4 613.0,516.6 617.5,511.5 621.8,506.1 626.0,500.5 629.9,494.7 633.7,488.7 637.3,482.5 640.6,476.3 643.6,469.9 646.4,463.5 648.9,457.1 651.1,450.6 653.0,444.3 654.5,438.0 655.8,431.7 656.7,425.7 657.3,419.8 657.5,414.0 657.4,408.5 657.0,403.3 656.2,398.3 655.1,393.6 653.6,389.3 651.9,385.3 649.8,381.6 647.4,378.3 644.7,375.5 641.8,373.0 638.6,371.0 635.1,369.4 631.4,368.3 627.5,367.5 623.4,367.3 619.2,367.5 614.7,368.1" fill="none" stroke="#111" stroke-width="1.0" />
<polyline points="571.8,540.6 576.4,538.5 581.1,536.0 585.7,533.1 590.4,529.8 595.0,526.1 599.6,522.1 604.2,517.8 608.6,513.2 612.9,508.3 617.1,503.1 621.2,497.7 625.0,492.1 628.7,486.3 632.1,480.4 635.3,474.4 638.3,468.2 641.0,462.1 643.4,455.8 645.6,449.6 647.4,443.5 648.9,437.4" fill="none" stroke="#c4c4c4" stroke-width="2.4" />
<polyline points="528.8,532.0 531.3,534.6 534.2,536.7 537.2,538.5 540.5,539.9 544.0,540.8 547.7,541.4 551.6,541.5 555.6,541.2 559.8,540.5 564.1,539.4 568.4,537.8 572.8,535.9 577.3,533.6 581.8,530.8 586.4,527.8 590.9,524.3 595.3,520.6 599.7,516.5 604.1,512.1 608.3,507.4 612.4,502.5 616.4,497.4 620.2,492.0 623.8,486.5 627.2,480.8 630.4,475.0 633.4,469.1 636.1,463.2 638.6,457.2 640.8,451.1 642.7,445.2 644.3,439.2 645.7,433.4 646.7,427.6 647.4,422.0 647.8,416.5 647.9,411.3 647.7,406.2 647.2,401.4 646.3,396.9 645.2,392.6 643.7,388.6 642.0,385.0 639.9,381.7 637.6,378.8" fill="none" stroke="#333" stroke-width="0.9" />
<path d="M636.9,360.2C634.3,362.8 626.6,370.6 621.1,376.0C615.5,381.4 606.8,388.7 603.6,392.4C600.5,396.0 602.1,396.3 602.0,397.8C601.9,399.4 602.1,400.4 603.1,401.6C604.1,402.9 607.2,404.8 608.0,405.5" fill="none" stroke="#111" stroke-width="1.44" stroke-linejoin="round" stroke-linecap="round" />
<path d="M608.0,405.5C610.5,405.8 618.2,406.9 623.3,407.6C628.4,408.4 634.7,409.5 638.5,409.8C642.4,410.1 644.5,410.0 646.2,409.3C647.9,408.5 648.5,406.1 648.9,405.5" fill="none" stroke="#111" stroke-width="1.36" stroke-linejoin="round" stroke-linecap="round" />
<path d="M636.9,360.2C637.5,362.3 639.5,368.8 640.2,372.7C640.8,376.6 640.8,379.6 640.7,383.6C640.6,387.6 640.0,392.4 639.6,396.7C639.3,401.1 638.7,407.6 638.5,409.8" fill="none" stroke="#111" stroke-width="1.36" stroke-linejoin="round" stroke-linecap="round" />
<path d="M639.6,361.8C640.5,363.6 643.7,368.7 645.1,372.7C646.5,376.7 647.2,380.4 647.8,385.8C648.5,391.3 648.7,402.2 648.9,405.5" fill="none" stroke="#111" stroke-width="1.27" stroke-linejoin="round" stroke-linecap="round" />
<path d="M641.3,360.7C642.5,362.7 646.6,368.2 648.4,372.7C650.1,377.3 650.9,382.5 651.6,388.0C652.4,393.5 652.5,402.5 652.7,405.5" fill="none" stroke="#555" stroke-width="1.0" stroke-linejoin="round" stroke-linecap="round" />
<path d="M642.9,360.2C644.2,362.1 648.6,367.0 650.5,371.6C652.5,376.3 653.5,382.2 654.4,388.0C655.2,393.8 655.3,403.5 655.5,406.5" fill="none" stroke="#c8c8c8" stroke-width="1.5" stroke-linejoin="round" stroke-linecap="round" />
<path d="M644.5,359.6C645.9,361.6 650.6,366.9 652.7,371.6C654.8,376.4 656.2,381.6 657.1,388.0C658.0,394.4 658.0,406.2 658.2,409.8" fill="none" stroke="#444" stroke-width="1.0" stroke-linejoin="round" stroke-linecap="round" />
<path d="M579.6,386.9C581.6,385.3 587.6,380.4 591.6,377.1C595.6,373.8 598.7,370.9 603.6,367.3C608.5,363.6 616.7,357.6 621.1,355.3C625.5,352.9 628.4,353.5 629.8,353.1" fill="none" stroke="#111" stroke-width="1.27" stroke-linejoin="round" stroke-linecap="round" />
<path d="M581.8,383.6C584.0,381.6 590.5,375.6 594.9,371.6C599.3,367.6 605.8,361.6 608.0,359.6" fill="none" stroke="#666" stroke-width="0.9" stroke-linejoin="round" stroke-linecap="round" />
<path d="M621.1,353.6C622.5,353.9 627.3,354.8 629.8,355.3C632.4,355.7 633.6,355.8 636.4,356.4C639.1,356.9 644.5,358.2 646.2,358.5" fill="none" stroke="#111" stroke-width="1.1" stroke-linejoin="round" stroke-linecap="round" />
<path d="M623.3,353.1C624.4,353.6 628.5,355.5 629.8,356.4C631.1,357.3 630.7,358.2 630.9,358.5" fill="none" stroke="#666" stroke-width="0.9" stroke-linejoin="round" stroke-linecap="round" />
<path d="M608.0,359.6C609.5,360.2 613.8,361.9 616.7,362.9C619.6,363.9 624.0,365.2 625.5,365.6" fill="none" stroke="#888" stroke-width="0.8" stroke-linejoin="round" stroke-linecap="round" />
<path d="M603.6,392.4C604.4,391.5 604.4,391.4 608.0,386.9C611.6,382.5 620.9,370.4 625.5,365.6C630.0,360.9 633.6,359.7 635.3,358.5" fill="none" stroke="#777" stroke-width="0.9" stroke-linejoin="round" stroke-linecap="round" />
<path d="M579.6,388.0C581.8,389.5 588.2,393.5 592.7,396.7C597.3,400.0 600.7,402.5 606.9,407.6C613.1,412.7 626.0,424.0 629.8,427.3" fill="none" stroke="#111" stroke-width="1.27" stroke-linejoin="round" stroke-linecap="round" />
<path d="M577.5,391.3C577.5,392.9 576.4,397.8 578.0,401.1C579.6,404.4 583.4,408.4 587.3,410.9C591.2,413.5 599.1,415.5 601.5,416.4" fill="none" stroke="#111" stroke-width="1.27" stroke-linejoin="round" stroke-linecap="round" />
<path d="M601.5,409.8C602.2,409.3 604.4,406.5 605.8,406.5C607.3,406.5 609.3,408.4 610.2,409.8C611.1,411.3 611.1,414.4 611.3,415.3" fill="none" stroke="#111" stroke-width="1.2" stroke-linejoin="round" stroke-linecap="round" />
<path d="M611.3,415.3C612.9,415.5 616.9,415.8 621.1,416.4C625.3,416.9 630.9,417.5 636.4,418.5C641.8,419.6 650.9,422.2 653.8,422.9" fill="none" stroke="#111" stroke-width="1.1" stroke-linejoin="round" stroke-linecap="round" />
<path d="M612.4,418.5C614.5,418.9 620.4,419.5 625.5,420.7C630.5,422.0 640.0,425.3 642.9,426.2" fill="none" stroke="#666" stroke-width="0.9" stroke-linejoin="round" stroke-linecap="round" />
<path d="M566.5,403.3C567.3,404.4 569.6,409.3 570.9,409.8C572.2,410.4 573.6,407.1 574.2,406.5" fill="none" stroke="#555" stroke-width="0.9" stroke-linejoin="round" stroke-linecap="round" />
<path d="M568.7,422.9C570.2,421.8 574.5,418.2 577.5,416.4C580.4,414.5 584.7,412.7 586.2,412.0" fill="none" stroke="#111" stroke-width="1.1" stroke-linejoin="round" stroke-linecap="round" stroke-dasharray="7 2 1.5 2"/>
<path d="M649.5,409.8C650.5,410.2 654.5,410.9 656.0,412.0C657.5,413.1 657.8,415.6 658.2,416.4" fill="none" stroke="#111" stroke-width="0.9" stroke-linejoin="round" stroke-linecap="round" />
<path d="M653.8,416.4C654.5,416.9 657.5,419.1 658.2,419.6" fill="none" stroke="#111" stroke-width="1.36" stroke-linejoin="round" stroke-linecap="round" stroke-dasharray="5 2.5"/>
<path d="M607.6,405.5C611.8,406.0 625.3,406.5 632.7,408.7C640.2,410.9 647.6,415.6 652.4,418.5C657.1,421.5 659.6,424.9 661.1,426.2" fill="none" stroke="#111" stroke-width="1.1" stroke-linejoin="round" stroke-linecap="round" />
<path d="M609.8,414.2C612.7,414.8 621.6,416.9 627.3,418.0C632.9,419.1 638.7,419.8 643.6,420.7C648.5,421.6 654.5,423.0 656.7,423.5" fill="none" stroke="#111" stroke-width="1.1" stroke-linejoin="round" stroke-linecap="round" />
<path d="M632.7,410.9C634.9,411.8 642.2,414.5 645.8,416.4C649.5,418.2 653.1,420.9 654.5,421.8" fill="none" stroke="#777" stroke-width="0.8" stroke-linejoin="round" stroke-linecap="round" />
<path d="M632.7,421.8C634.2,421.6 638.9,420.4 641.5,420.7C644.0,421.1 646.9,423.5 648.0,424.0" fill="none" stroke="#555" stroke-width="0.9" stroke-linejoin="round" stroke-linecap="round" stroke-dasharray="7 2 1.5 2"/>
<path d="M636.0,432.7C637.6,432.5 643.8,432.7 645.8,431.6C647.8,430.5 647.6,427.1 648.0,426.2" fill="none" stroke="#555" stroke-width="0.9" stroke-linejoin="round" stroke-linecap="round" stroke-dasharray="7 2 1.5 2"/>
<path d="M637.1,439.3C638.5,440.4 642.5,443.8 645.8,445.8C649.1,447.8 654.9,450.4 656.7,451.3" fill="none" stroke="#555" stroke-width="0.9" stroke-linejoin="round" stroke-linecap="round" stroke-dasharray="7 2 1.5 2"/>
<path d="M632.7,445.8C634.2,446.7 638.4,450.2 641.5,451.3C644.5,452.4 649.6,452.2 651.3,452.4" fill="none" stroke="#555" stroke-width="0.9" stroke-linejoin="round" stroke-linecap="round" stroke-dasharray="7 2 1.5 2"/>
<path d="M643.6,421.8C643.8,424.2 644.5,433.6 644.7,436.0" fill="none" stroke="#555" stroke-width="0.9" stroke-linejoin="round" stroke-linecap="round" stroke-dasharray="7 2 1.5 2"/>
<path d="M661.1,414.2C661.8,414.9 664.9,416.4 665.5,418.5C666.0,420.7 664.5,425.8 664.4,427.3" fill="none" stroke="#555" stroke-width="0.9" stroke-linejoin="round" stroke-linecap="round" stroke-dasharray="7 2 1.5 2"/>
<path d="M648.0,458.9C648.9,460.0 652.5,464.4 653.5,465.5" fill="none" stroke="#111" stroke-width="1.44" stroke-linejoin="round" stroke-linecap="round" stroke-dasharray="5 2.5"/>
<path d="M656.7,425.1C657.5,425.4 660.8,426.6 661.6,426.9" fill="none" stroke="#111" stroke-width="1.36" stroke-linejoin="round" stroke-linecap="round" />
<path d="M576.7,400.0C577.1,401.1 576.4,403.8 578.9,406.5C581.5,409.3 587.3,412.9 592.0,416.4C596.7,419.8 604.7,425.5 607.3,427.3" fill="none" stroke="#111" stroke-width="1.19" stroke-linejoin="round" stroke-linecap="round" />
<path d="M554.9,400.0C556.0,401.1 558.7,404.9 561.5,406.5C564.2,408.2 569.6,409.3 571.3,409.8" fill="none" stroke="#111" stroke-width="1.27" stroke-linejoin="round" stroke-linecap="round" />
<path d="M559.3,404.4C560.4,405.6 564.2,409.3 565.8,412.0C567.5,414.7 566.5,420.4 569.1,420.7C571.6,421.1 578.2,415.8 581.1,414.2C584.0,412.5 585.6,411.5 586.5,410.9" fill="none" stroke="#111" stroke-width="1.0" stroke-linejoin="round" stroke-linecap="round" stroke-dasharray="7 2 1.5 2"/>
<path d="M569.1,421.8C567.8,424.0 562.9,431.5 561.5,434.9C560.0,438.4 560.5,441.3 560.4,442.5" fill="none" stroke="#111" stroke-width="1.0" stroke-linejoin="round" stroke-linecap="round" stroke-dasharray="7 2 1.5 2"/>
<path d="M552.7,414.2C556.0,417.1 566.0,426.2 572.4,431.6C578.7,437.1 587.8,444.4 590.9,446.9" fill="none" stroke="#111" stroke-width="1.27" stroke-linejoin="round" stroke-linecap="round" />
<path d="M557.6,418.0C559.0,419.3 564.5,424.4 565.8,425.6" fill="none" stroke="#111" stroke-width="1.27" stroke-linejoin="round" stroke-linecap="round" />
<path d="M534.2,436.0C537.3,437.3 546.0,440.9 552.7,443.6C559.5,446.4 568.4,450.0 574.5,452.4C580.7,454.7 587.3,456.9 589.8,457.8" fill="none" stroke="#666" stroke-width="0.9" stroke-linejoin="round" stroke-linecap="round" />
<path d="M536.4,438.2C539.5,439.5 548.2,443.5 554.9,446.4C561.6,449.2 570.9,452.8 576.7,455.1C582.5,457.4 587.6,459.2 589.8,460.0" fill="none" stroke="#888" stroke-width="0.9" stroke-linejoin="round" stroke-linecap="round" />
<path d="M530.9,437.1C532.4,438.5 538.2,442.9 539.6,445.8C541.1,448.7 541.8,452.0 539.6,454.5C537.5,457.1 529.8,459.3 526.5,461.1C523.3,462.9 521.1,464.7 520.0,465.5" fill="none" stroke="#333" stroke-width="1.0" stroke-linejoin="round" stroke-linecap="round" />
<path d="M539.6,445.8C541.5,445.6 548.4,444.2 550.5,444.7C552.7,445.3 553.5,448.0 552.7,449.1C552.0,450.2 547.3,450.9 546.2,451.3" fill="none" stroke="#555" stroke-width="0.9" stroke-linejoin="round" stroke-linecap="round" stroke-dasharray="7 2 1.5 2"/>
<path d="M537.5,465.5C539.6,466.7 546.2,470.5 550.5,473.1C554.9,475.6 561.5,479.5 563.6,480.7" fill="none" stroke="#111" stroke-width="1.1" stroke-linejoin="round" stroke-linecap="round" />
<path d="M535.3,467.6C537.5,468.9 544.0,472.7 548.4,475.3C552.7,477.8 559.3,481.6 561.5,482.9" fill="none" stroke="#666" stroke-width="0.9" stroke-linejoin="round" stroke-linecap="round" />
<path d="M520.0,472.0C521.3,471.3 525.3,469.1 527.6,467.6C530.0,466.2 533.1,464.0 534.2,463.3" fill="none" stroke="#111" stroke-width="1.2" stroke-linejoin="round" stroke-linecap="round" />
<path d="M549.5,485.1C550.0,484.4 551.6,480.4 552.7,480.7C553.8,481.1 555.5,486.2 556.0,487.3" fill="none" stroke="#111" stroke-width="1.2" stroke-linejoin="round" stroke-linecap="round" />
<path d="M589.8,432.7C590.2,431.8 590.5,428.5 592.0,427.3C593.5,426.0 595.8,425.0 598.5,425.1C601.3,425.2 605.1,426.7 608.4,427.8C611.6,428.9 616.5,431.0 618.2,431.6" fill="none" stroke="#111" stroke-width="1.19" stroke-linejoin="round" stroke-linecap="round" />
<path d="M590.9,432.7C591.5,434.5 592.5,440.9 594.2,443.6C595.8,446.4 599.6,448.2 600.7,449.1" fill="none" stroke="#111" stroke-width="1.19" stroke-linejoin="round" stroke-linecap="round" />
<path d="M596.4,431.6C598.2,432.4 603.1,434.0 607.3,436.0C611.5,438.0 619.1,442.4 621.5,443.6" fill="none" stroke="#111" stroke-width="1.2" stroke-linejoin="round" stroke-linecap="round" />
<path d="M601.8,427.3C603.6,427.6 609.8,428.5 612.7,429.5C615.6,430.4 618.2,432.2 619.3,432.7" fill="none" stroke="#111" stroke-width="1.5" stroke-linejoin="round" stroke-linecap="round" />
<path d="M606.2,454.5C602.7,454.9 591.1,456.0 585.5,456.7C579.8,457.5 575.6,457.5 572.4,458.9C569.1,460.4 566.9,462.5 565.8,465.5C564.7,468.4 564.9,473.1 565.8,476.4C566.7,479.6 569.5,482.8 571.3,485.1C573.1,487.4 575.8,489.2 576.7,490.0" fill="none" stroke="#111" stroke-width="1.27" stroke-linejoin="round" stroke-linecap="round" />
<path d="M568.0,465.5C570.9,466.7 580.0,470.7 585.5,473.1C590.9,475.5 598.2,478.5 600.7,479.6" fill="none" stroke="#555" stroke-width="0.9" stroke-linejoin="round" stroke-linecap="round" />
<path d="M571.3,461.1C570.9,462.5 568.9,466.5 569.1,469.8C569.3,473.1 571.8,478.9 572.4,480.7" fill="none" stroke="#666" stroke-width="0.9" stroke-linejoin="round" stroke-linecap="round" />
<path d="M552.4,493.5C550.9,493.0 547.1,490.0 543.6,490.7C540.2,491.5 535.3,494.5 531.6,497.8C528.0,501.1 524.5,505.9 521.8,510.4C519.1,514.8 516.8,520.4 515.3,524.5C513.7,528.7 513.0,533.6 512.5,535.5" fill="none" stroke="#111" stroke-width="1.5" stroke-linejoin="round" stroke-linecap="round" />
<path d="M531.6,497.8C532.4,500.5 534.2,508.5 536.0,513.6C537.8,518.8 540.4,524.2 542.5,528.9C544.7,533.6 548.0,539.8 549.1,542.0" fill="none" stroke="#111" stroke-width="1.1" stroke-linejoin="round" stroke-linecap="round" />
<path d="M512.5,535.5C513.0,536.9 513.9,542.0 515.3,544.2C516.6,546.4 519.8,547.8 520.7,548.5" fill="none" stroke="#111" stroke-width="1.2" stroke-linejoin="round" stroke-linecap="round" />
<path d="M520.7,548.5C522.7,548.5 528.0,549.2 532.7,548.0C537.5,546.8 546.4,542.5 549.1,541.5" fill="none" stroke="#111" stroke-width="1.5" stroke-linejoin="round" stroke-linecap="round" />
<path d="M549.1,541.5C549.5,542.3 550.0,544.8 551.3,546.4C552.5,547.9 555.8,550.0 556.7,550.7" fill="none" stroke="#111" stroke-width="1.1" stroke-linejoin="round" stroke-linecap="round" />
<path d="M521.8,550.2C524.0,550.3 530.0,551.0 534.9,550.7C539.8,550.5 546.9,548.5 551.3,548.5C555.6,548.5 559.5,550.4 561.1,550.7" fill="none" stroke="#777" stroke-width="0.9" stroke-linejoin="round" stroke-linecap="round" />
<path d="M522.9,552.4C525.1,552.5 531.1,553.7 536.0,553.5C540.9,553.2 549.6,551.2 552.4,550.7" fill="none" stroke="#888" stroke-width="0.9" stroke-linejoin="round" stroke-linecap="round" />
<path d="M518.5,479.3C520.9,480.2 527.5,482.8 532.7,484.7C538.0,486.6 547.3,489.7 550.2,490.7" fill="none" stroke="#111" stroke-width="1.19" stroke-linejoin="round" stroke-linecap="round" />
<path d="M516.4,482.0C515.6,483.1 513.6,485.1 512.0,488.5C510.4,492.0 507.8,498.2 506.5,502.7C505.3,507.3 504.7,513.6 504.4,515.8" fill="none" stroke="#333" stroke-width="1.1" stroke-linejoin="round" stroke-linecap="round" />
<path d="M513.1,524.5C512.0,523.1 508.2,518.9 506.5,515.8C504.9,512.7 503.8,507.6 503.3,506.0" fill="none" stroke="#555" stroke-width="0.9" stroke-linejoin="round" stroke-linecap="round" />
<path d="M553.5,493.5C553.6,495.9 553.6,502.6 554.5,508.2C555.5,513.7 557.3,521.1 558.9,526.7C560.5,532.4 562.9,538.4 564.4,542.0C565.8,545.6 567.1,547.5 567.6,548.5" fill="none" stroke="#111" stroke-width="1.5" stroke-linejoin="round" stroke-linecap="round" />
<path d="M548.5,496.2C548.8,499.1 549.0,507.8 550.2,513.6C551.4,519.5 553.8,525.8 555.6,531.1C557.5,536.4 560.2,542.9 561.1,545.3" fill="none" stroke="#444" stroke-width="0.9" stroke-linejoin="round" stroke-linecap="round" stroke-dasharray="7 2 1.5 2"/>
<path d="M586.2,504.9C586.7,506.9 588.4,513.1 589.5,516.9C590.5,520.7 591.6,525.5 592.7,527.8C593.8,530.2 595.5,530.5 596.0,531.1" fill="none" stroke="#111" stroke-width="1.19" stroke-linejoin="round" stroke-linecap="round" />
<path d="M596.0,531.1C597.1,531.7 601.5,534.3 602.5,534.9" fill="none" stroke="#111" stroke-width="1.5" stroke-linejoin="round" stroke-linecap="round" stroke-dasharray="5 2.5"/>
<path d="M565.5,545.3C565.2,547.3 564.1,555.3 563.8,557.3" fill="none" stroke="#111" stroke-width="1.5" stroke-linejoin="round" stroke-linecap="round" stroke-dasharray="5 2.5"/>
<path d="M567.6,548.5C568.9,549.5 574.0,553.1 575.3,554.0" fill="none" stroke="#111" stroke-width="1.1" stroke-linejoin="round" stroke-linecap="round" />
<path d="M549.6,483.1C549.9,482.7 550.6,481.1 551.3,480.9C551.9,480.7 552.9,480.9 553.5,482.0C554.0,483.1 554.5,485.5 554.5,487.5C554.5,489.4 553.6,492.5 553.5,493.5" fill="none" stroke="#111" stroke-width="1.1" stroke-linejoin="round" stroke-linecap="round" />
<path d="M549.6,483.1C549.5,484.0 548.6,486.8 549.1,488.5C549.5,490.3 551.8,492.6 552.4,493.5" fill="none" stroke="#111" stroke-width="1.1" stroke-linejoin="round" stroke-linecap="round" />
<path d="M557.8,520.2C559.1,519.8 562.7,519.1 565.5,518.0C568.2,516.9 572.0,515.3 574.2,513.6C576.4,512.0 577.8,509.1 578.5,508.2" fill="none" stroke="#555" stroke-width="0.9" stroke-linejoin="round" stroke-linecap="round" stroke-dasharray="7 2 1.5 2"/>
<path d="M561.1,526.7C562.5,526.4 566.7,526.0 569.8,524.5C572.9,523.1 578.0,519.1 579.6,518.0" fill="none" stroke="#555" stroke-width="0.9" stroke-linejoin="round" stroke-linecap="round" stroke-dasharray="7 2 1.5 2"/>
<path d="M565.5,533.3C567.3,532.9 572.9,532.5 576.4,531.1C579.8,529.6 584.5,525.6 586.2,524.5" fill="none" stroke="#555" stroke-width="0.9" stroke-linejoin="round" stroke-linecap="round" stroke-dasharray="7 2 1.5 2"/>
<path d="M565.5,506.0C566.2,507.6 568.0,512.4 569.8,515.8C571.6,519.3 574.2,524.2 576.4,526.7C578.5,529.3 581.8,530.4 582.9,531.1" fill="none" stroke="#555" stroke-width="0.9" stroke-linejoin="round" stroke-linecap="round" stroke-dasharray="7 2 1.5 2"/>
<path d="M570.9,506.0C571.8,507.8 574.4,513.8 576.4,516.9C578.4,520.0 581.8,523.3 582.9,524.5" fill="none" stroke="#555" stroke-width="0.9" stroke-linejoin="round" stroke-linecap="round" stroke-dasharray="7 2 1.5 2"/>
<path d="M558.9,502.7C559.6,502.2 562.2,499.6 563.3,499.5C564.4,499.3 565.1,501.3 565.5,501.6" fill="none" stroke="#555" stroke-width="0.9" stroke-linejoin="round" stroke-linecap="round" stroke-dasharray="7 2 1.5 2"/>
<path d="M569.8,537.6C572.0,537.5 579.6,537.5 582.9,536.5C586.2,535.6 588.4,532.9 589.5,532.2" fill="none" stroke="#555" stroke-width="0.9" stroke-linejoin="round" stroke-linecap="round" stroke-dasharray="7 2 1.5 2"/>
<path d="M590.5,531.1C591.1,532.5 593.3,538.4 593.8,539.8" fill="none" stroke="#555" stroke-width="0.9" stroke-linejoin="round" stroke-linecap="round" stroke-dasharray="7 2 1.5 2"/>
<path d="M570.9,526.7C571.6,527.5 574.0,530.7 575.3,531.1C576.5,531.5 577.6,528.9 578.5,528.9C579.5,528.9 580.4,530.7 580.7,531.1" fill="none" stroke="#444" stroke-width="0.9" stroke-linejoin="round" stroke-linecap="round" />
<path d="M541.5,470.0C543.6,470.8 550.2,473.5 554.5,474.9C558.9,476.4 565.5,478.1 567.6,478.7" fill="none" stroke="#111" stroke-width="1.1" stroke-linejoin="round" stroke-linecap="round" />
<path d="M565.5,470.0C565.8,470.9 566.2,473.8 567.6,475.5C569.1,477.1 572.4,478.2 574.2,479.8C576.0,481.5 577.8,484.4 578.5,485.3" fill="none" stroke="#111" stroke-width="1.19" stroke-linejoin="round" stroke-linecap="round" />
<path d="M561.1,472.2C561.8,472.9 564.0,474.7 565.5,476.5C566.9,478.4 569.1,482.0 569.8,483.1" fill="none" stroke="#555" stroke-width="0.9" stroke-linejoin="round" stroke-linecap="round" />
<path d="M588.2,556.4C590.0,557.6 597.0,560.3 599.1,563.6C601.2,567.0 600.6,574.2 600.9,576.4" fill="none" stroke="#666" stroke-width="0.9" stroke-linejoin="round" stroke-linecap="round" />
<path d="M625.8,500.0C627.1,500.8 632.2,504.1 633.5,504.9" fill="none" stroke="#555" stroke-width="0.9" stroke-linejoin="round" stroke-linecap="round" />
<polygon points="572.6,446.9 589.9,456.9 595.1,447.9 577.8,437.9" fill="#fff" stroke="none" stroke-width="1.0" stroke-linejoin="round" />
<line x1="572.6" y1="446.9" x2="589.9" y2="456.9" stroke="#111" stroke-width="1.19" />
<line x1="577.8" y1="437.9" x2="595.1" y2="447.9" stroke="#111" stroke-width="1.19" />
<ellipse cx="592.5" cy="452.4" rx="3.43" ry="5.20" transform="rotate(30 592.5 452.4)" fill="#fff" stroke="#111" stroke-width="1.27" />
<ellipse cx="592.5" cy="452.4" rx="1.72" ry="2.60" transform="rotate(30 592.5 452.4)" fill="none" stroke="#111" stroke-width="1.19" />
<polygon points="605.9,424.5 626.7,436.5 632.3,426.8 611.5,414.8" fill="#fff" stroke="none" stroke-width="1.0" stroke-linejoin="round" />
<line x1="605.9" y1="424.5" x2="626.7" y2="436.5" stroke="#111" stroke-width="1.19" />
<line x1="611.5" y1="414.8" x2="632.3" y2="426.8" stroke="#111" stroke-width="1.19" />
<ellipse cx="629.5" cy="431.6" rx="3.70" ry="5.60" transform="rotate(30 629.5 431.6)" fill="#fff" stroke="#111" stroke-width="1.27" />
<ellipse cx="629.5" cy="431.6" rx="1.85" ry="2.80" transform="rotate(30 629.5 431.6)" fill="none" stroke="#111" stroke-width="1.19" />
<polygon points="557.9,491.4 578.7,503.4 583.9,494.4 563.1,482.4" fill="#fff" stroke="none" stroke-width="1.0" stroke-linejoin="round" />
<line x1="557.9" y1="491.4" x2="578.7" y2="503.4" stroke="#111" stroke-width="1.19" />
<line x1="563.1" y1="482.4" x2="583.9" y2="494.4" stroke="#111" stroke-width="1.19" />
<ellipse cx="581.3" cy="498.9" rx="3.43" ry="5.20" transform="rotate(30 581.3 498.9)" fill="#fff" stroke="#111" stroke-width="1.27" />
<ellipse cx="581.3" cy="498.9" rx="1.72" ry="2.60" transform="rotate(30 581.3 498.9)" fill="none" stroke="#111" stroke-width="1.19" />
<path d="M586.2,499.5C587.5,499.8 591.3,501.1 593.8,501.6C596.4,502.2 600.2,502.5 601.5,502.7" fill="none" stroke="#111" stroke-width="1.5" stroke-linejoin="round" stroke-linecap="round" />
<path d="M587.3,501.6C588.5,502.2 593.6,504.4 594.9,504.9" fill="none" stroke="#111" stroke-width="1.0" stroke-linejoin="round" stroke-linecap="round" />
<polygon points="626.4,461.5 638.5,468.5 643.3,460.2 631.2,453.2" fill="#fff" stroke="none" stroke-width="1.0" stroke-linejoin="round" />
<line x1="626.4" y1="461.5" x2="638.5" y2="468.5" stroke="#111" stroke-width="1.19" />
<line x1="631.2" y1="453.2" x2="643.3" y2="460.2" stroke="#111" stroke-width="1.19" />
<ellipse cx="640.9" cy="464.4" rx="3.17" ry="4.80" transform="rotate(30 640.9 464.4)" fill="#fff" stroke="#111" stroke-width="1.27" />
<ellipse cx="640.9" cy="464.4" rx="1.72" ry="2.60" transform="rotate(30 640.9 464.4)" fill="none" stroke="#111" stroke-width="1.19" />
<path d="M625.1,445.8C626.0,446.7 628.9,449.5 630.5,451.3C632.2,453.1 634.2,455.8 634.9,456.7" fill="none" stroke="#111" stroke-width="1.5" stroke-linejoin="round" stroke-linecap="round" />
<path d="M621.8,445.8C622.1,445.5 622.7,443.8 623.5,443.6C624.2,443.5 624.6,443.5 626.2,444.7C627.7,446.0 631.6,450.2 632.7,451.3" fill="none" stroke="#111" stroke-width="1.2" stroke-linejoin="round" stroke-linecap="round" />
<polygon points="594.9,502.9 608.8,510.9 613.8,502.2 599.9,494.2" fill="#fff" stroke="none" stroke-width="1.0" stroke-linejoin="round" />
<line x1="594.9" y1="502.9" x2="608.8" y2="510.9" stroke="#111" stroke-width="1.19" />
<line x1="599.9" y1="494.2" x2="613.8" y2="502.2" stroke="#111" stroke-width="1.19" />
<ellipse cx="611.3" cy="506.5" rx="3.30" ry="5.00" transform="rotate(30 611.3 506.5)" fill="#fff" stroke="#111" stroke-width="1.27" />
<ellipse cx="611.3" cy="506.5" rx="1.72" ry="2.60" transform="rotate(30 611.3 506.5)" fill="none" stroke="#111" stroke-width="1.19" />
<ellipse cx="614.6" cy="471.5" rx="11.60" ry="19.80" transform="rotate(30 614.6 471.5)" fill="#fff" stroke="#111" stroke-width="1.27" />
<ellipse cx="615.0" cy="471.8" rx="8.60" ry="15.20" transform="rotate(30 615.0 471.8)" fill="none" stroke="#111" stroke-width="1.19" />
<polyline points="603.4,482.1 603.8,482.5 604.3,482.8 604.8,483.1 605.3,483.4 605.9,483.5 606.5,483.6 607.1,483.7 607.8,483.6 608.4,483.5 609.1,483.4 609.9,483.1 610.6,482.8 611.3,482.5 612.0,482.0 612.8,481.6 613.5,481.0 614.2,480.4 614.9,479.8 615.6,479.1 616.3,478.4 616.9,477.6 617.6,476.8 618.2,476.0 618.7,475.1 619.3,474.2 619.8,473.3 620.2,472.4 620.7,471.4 621.1,470.5 621.4,469.5 621.7,468.6 621.9,467.6 622.1,466.7 622.3,465.8 622.4,464.9 622.4,464.0 622.4,463.2 622.4,462.3 622.3,461.6 622.1,460.9 621.9,460.2 621.7,459.5 621.4,458.9 621.0,458.4 620.7,457.9 620.2,457.5 619.8,457.2 619.2,456.9 618.7,456.6 618.1,456.5" fill="none" stroke="#555" stroke-width="0.9" />
</g>
<line x1="617.0" y1="296.0" x2="574.0" y2="341.0" stroke="#8c8c8c" stroke-width="1.1" stroke-dasharray="10 3 2.5 3"/>
<polyline points="630.6,275.4 619.9,288.7 627.1,294.4 637.7,281.2" fill="#fff" stroke="#111" stroke-width="1.0" stroke-linejoin="round" />
<path d="M620.2,288.3C620.6,289.1 620.9,292.4 622.1,293.3C623.3,294.3 626.5,293.9 627.4,294.0" fill="none" stroke="#111" stroke-width="1.0" stroke-linejoin="round" stroke-linecap="round" />
<path d="M622.4,285.5C622.8,286.4 623.2,289.5 624.4,290.4C625.6,291.4 628.7,291.2 629.6,291.3" fill="none" stroke="#111" stroke-width="1.8" stroke-linejoin="round" stroke-linecap="round" />
<path d="M624.6,282.8C625.0,283.6 625.5,286.7 626.6,287.6C627.8,288.6 630.9,288.4 631.8,288.6" fill="none" stroke="#777" stroke-width="0.7" stroke-linejoin="round" stroke-linecap="round" />
<path d="M626.8,276.2C627.3,277.5 628.0,282.3 629.8,283.7C631.6,285.2 636.4,284.8 637.7,285.0" fill="none" stroke="#777" stroke-width="0.7" stroke-linejoin="round" stroke-linecap="round" />
<circle cx="637.9" cy="273.6" r="10.5" fill="#fff" stroke="#111" stroke-width="1.1"/>
<path d="M627.9,270.7C628.0,271.8 628.1,275.3 628.7,277.1C629.3,278.9 630.2,280.6 631.5,281.6C632.8,282.7 634.6,283.2 636.5,283.4C638.4,283.5 641.8,282.8 642.9,282.7" fill="none" stroke="#555" stroke-width="0.8" stroke-linejoin="round" stroke-linecap="round" />
<circle cx="640.3" cy="271.6" r="2.9" fill="none" stroke="#333" stroke-width="0.9"/>
<line x1="614.6" y1="471.5" x2="700.0" y2="523.2" stroke="#8c8c8c" stroke-width="1.1" stroke-dasharray="10 3 2.5 3"/>
<line x1="631.0" y1="432.5" x2="838.0" y2="552.0" stroke="#8c8c8c" stroke-width="1.1" stroke-dasharray="10 3 2.5 3"/>
<ellipse cx="704.2" cy="525.1" rx="9.53" ry="16.50" transform="rotate(30 704.2 525.1)" fill="#fff" stroke="#111" stroke-width="1.1" />
<polygon points="695.9,539.3 702.2,543.0 718.8,514.4 712.4,510.8" fill="#fff" stroke="none" stroke-width="1.0" stroke-linejoin="round" />
<line x1="695.9" y1="539.3" x2="702.2" y2="543.0" stroke="#111" stroke-width="1.1" />
<line x1="712.4" y1="510.8" x2="718.8" y2="514.4" stroke="#111" stroke-width="1.1" />
<ellipse cx="710.5" cy="528.7" rx="9.53" ry="16.50" transform="rotate(30 710.5 528.7)" fill="#fff" stroke="#111" stroke-width="1.1" />
<polyline points="718.8,515.1 718.4,514.6 717.8,514.2 717.3,513.9 716.7,513.7 716.0,513.5 715.4,513.4 714.7,513.3 713.9,513.3 713.2,513.4 712.4,513.6 711.6,513.9 710.9,514.2 710.1,514.5 709.3,515.0 708.5,515.5 707.7,516.1 706.9,516.7 706.1,517.4 705.4,518.1 704.6,518.9 703.9,519.7 703.2,520.6 702.6,521.5 701.9,522.5 701.4,523.4 700.8,524.4 700.3,525.4 699.9,526.4 699.4,527.5 699.1,528.5 698.8,529.5 698.5,530.6 698.3,531.6 698.1,532.6 698.0,533.5 698.0,534.5 698.0,535.4 698.1,536.3 698.2,537.1 698.4,537.9 698.6,538.7 698.9,539.4 699.3,540.0 699.6,540.6 700.1,541.1 700.6,541.6 701.1,542.0 701.6,542.3 702.3,542.5 702.9,542.7" fill="none" stroke="#777" stroke-width="0.7" />
<ellipse cx="710.5" cy="528.7" rx="7.79" ry="13.50" transform="rotate(30 710.5 528.7)" fill="none" stroke="#999" stroke-width="0.7" />
<ellipse cx="710.5" cy="528.7" rx="6.35" ry="11.00" transform="rotate(30 710.5 528.7)" fill="none" stroke="#111" stroke-width="1.0" />
<ellipse cx="710.5" cy="528.7" rx="4.91" ry="8.50" transform="rotate(30 710.5 528.7)" fill="none" stroke="#555" stroke-width="0.8" />
<ellipse cx="710.5" cy="528.7" rx="3.64" ry="6.30" transform="rotate(30 710.5 528.7)" fill="none" stroke="#111" stroke-width="1.1" />
<polyline points="712.3,524.5 712.2,524.3 712.0,524.2 711.9,524.0 711.8,523.9 711.6,523.8 711.4,523.7 711.2,523.6 711.0,523.6 710.8,523.6 710.6,523.6 710.4,523.6 710.2,523.6 710.0,523.7 709.7,523.8 709.5,523.9 709.3,524.0 709.0,524.1 708.8,524.3 708.6,524.5 708.3,524.7 708.1,524.9 707.9,525.1 707.7,525.3 707.5,525.6 707.3,525.9 707.1,526.1 706.9,526.4 706.7,526.7 706.6,527.0 706.4,527.3 706.3,527.6 706.2,527.9 706.1,528.2 706.0,528.5 705.9,528.8 705.9,529.1 705.8,529.4 705.8,529.7 705.8,530.0 705.8,530.2 705.8,530.5 705.9,530.7 706.0,531.0 706.0,531.2 706.1,531.4 706.2,531.6 706.4,531.7 706.5,531.9 706.6,532.0 706.8,532.1 707.0,532.2 707.2,532.3 707.4,532.3 707.6,532.3 707.8,532.3" fill="none" stroke="#555" stroke-width="0.8" />
<line x1="710.5" y1="528.7" x2="736.0" y2="543.4" stroke="#8c8c8c" stroke-width="1.1" stroke-dasharray="10 3 2.5 3"/>
<ellipse cx="741.8" cy="546.9" rx="7.04" ry="12.20" transform="rotate(30 741.8 546.9)" fill="#fff" stroke="#111" stroke-width="1.1" />
<polygon points="735.7,557.5 738.5,559.1 750.7,537.9 747.9,536.3" fill="#fff" stroke="none" stroke-width="1.0" stroke-linejoin="round" />
<line x1="735.7" y1="557.5" x2="738.5" y2="559.1" stroke="#111" stroke-width="1.1" />
<line x1="747.9" y1="536.3" x2="750.7" y2="537.9" stroke="#111" stroke-width="1.1" />
<ellipse cx="744.6" cy="548.5" rx="7.04" ry="12.20" transform="rotate(30 744.6 548.5)" fill="#fff" stroke="#111" stroke-width="1.1" />
<polyline points="749.9,537.5 749.5,537.2 749.1,537.0 748.6,536.8 748.1,536.7 747.6,536.6 747.0,536.6 746.5,536.7 745.9,536.7 745.3,536.9 744.7,537.1 744.1,537.4 743.5,537.7 742.9,538.0 742.3,538.4 741.7,538.9 741.1,539.4 740.5,539.9 740.0,540.5 739.4,541.1 738.9,541.8 738.4,542.4 737.9,543.1 737.4,543.9 737.0,544.6 736.6,545.4 736.2,546.1 735.9,546.9 735.6,547.7 735.3,548.5 735.1,549.3 735.0,550.0 734.8,550.8 734.7,551.6 734.7,552.3 734.7,553.0 734.7,553.7 734.8,554.3 734.9,554.9 735.1,555.5 735.3,556.1 735.5,556.6 735.8,557.0 736.1,557.4 736.5,557.8 736.9,558.1 737.3,558.4 737.8,558.6" fill="none" stroke="#777" stroke-width="0.7" />
<ellipse cx="745.0" cy="548.8" rx="6.06" ry="10.50" transform="rotate(30 745.0 548.8)" fill="none" stroke="#666" stroke-width="0.7" />
<polygon points="740.5,557.7 753.5,565.2 763.5,547.8 750.5,540.3" fill="#fff" stroke="none" stroke-width="1.0" stroke-linejoin="round" />
<line x1="740.5" y1="557.7" x2="753.5" y2="565.2" stroke="#111" stroke-width="1.1" />
<line x1="750.5" y1="540.3" x2="763.5" y2="547.8" stroke="#111" stroke-width="1.1" />
<ellipse cx="758.5" cy="556.5" rx="5.77" ry="10.00" transform="rotate(30 758.5 556.5)" fill="#fff" stroke="#111" stroke-width="1.1" />
<ellipse cx="758.5" cy="556.5" rx="4.73" ry="8.20" transform="rotate(30 758.5 556.5)" fill="none" stroke="#777" stroke-width="0.7" />
<ellipse cx="758.5" cy="556.5" rx="3.00" ry="5.20" transform="rotate(30 758.5 556.5)" fill="none" stroke="#111" stroke-width="1.0" />
<polyline points="753.8,559.7 753.9,559.8 754.1,559.9 754.3,560.1 754.5,560.1 754.7,560.2 754.9,560.2 755.1,560.2 755.3,560.2 755.6,560.2 755.8,560.2 756.1,560.1 756.3,560.0 756.6,559.9 756.8,559.7 757.1,559.5 757.3,559.4 757.6,559.2 757.8,558.9 758.1,558.7 758.3,558.5 758.6,558.2 758.8,557.9 759.0,557.6 759.2,557.3 759.4,557.0 759.5,556.7 759.7,556.4 759.9,556.0 760.0,555.7 760.1,555.4 760.2,555.0 760.3,554.7 760.4,554.4 760.4,554.1 760.4,553.8 760.4,553.5 760.4,553.2 760.4,552.9 760.4,552.6 760.3,552.4 760.2,552.1 760.2,551.9 760.0,551.7 759.9,551.5 759.8,551.3 759.6,551.2 759.5,551.1 759.3,550.9 759.1,550.9 758.9,550.8" fill="none" stroke="#666" stroke-width="0.7" />
<line x1="758.5" y1="556.5" x2="772.0" y2="564.3" stroke="#8c8c8c" stroke-width="1.1" stroke-dasharray="10 3 2.5 3"/>
<ellipse cx="783.0" cy="569.9" rx="9.82" ry="17.00" transform="rotate(30 783.0 569.9)" fill="#fff" stroke="#111" stroke-width="1.1" />
<polygon points="774.5,584.6 777.5,586.3 794.5,556.9 791.5,555.1" fill="#fff" stroke="none" stroke-width="1.0" stroke-linejoin="round" />
<line x1="774.5" y1="584.6" x2="777.5" y2="586.3" stroke="#111" stroke-width="1.1" />
<line x1="791.5" y1="555.1" x2="794.5" y2="556.9" stroke="#111" stroke-width="1.1" />
<ellipse cx="786.0" cy="571.6" rx="9.82" ry="17.00" transform="rotate(30 786.0 571.6)" fill="#fff" stroke="#111" stroke-width="1.1" />
<polyline points="793.6,556.7 793.1,556.3 792.5,556.0 791.8,555.7 791.1,555.5 790.4,555.4 789.7,555.4 788.9,555.5 788.1,555.6 787.3,555.8 786.5,556.1 785.7,556.4 784.8,556.9 784.0,557.4 783.2,557.9 782.3,558.5 781.5,559.2 780.7,560.0 779.9,560.8 779.2,561.6 778.4,562.5 777.7,563.4 777.1,564.4 776.4,565.4 775.8,566.4 775.3,567.5 774.8,568.5 774.3,569.6 773.9,570.7 773.6,571.8 773.3,572.8 773.0,573.9 772.9,575.0 772.7,576.0 772.7,577.0 772.7,578.0 772.7,578.9 772.8,579.8 773.0,580.6 773.2,581.4 773.5,582.2 773.8,582.9 774.2,583.5 774.7,584.1 775.2,584.6 775.7,585.0 776.3,585.4 776.9,585.7" fill="none" stroke="#777" stroke-width="0.7" />
<ellipse cx="786.0" cy="571.6" rx="8.37" ry="14.50" transform="rotate(30 786.0 571.6)" fill="none" stroke="#777" stroke-width="0.7" />
<ellipse cx="786.0" cy="571.6" rx="7.39" ry="12.80" transform="rotate(30 786.0 571.6)" fill="none" stroke="#999" stroke-width="0.7" />
<ellipse cx="786.4" cy="571.9" rx="5.95" ry="10.30" transform="rotate(30 786.4 571.9)" fill="none" stroke="#111" stroke-width="1.9" />
<polyline points="777.9,578.6 778.2,578.9 778.5,579.2 778.9,579.4 779.3,579.5 779.7,579.7 780.1,579.7 780.5,579.8 781.0,579.7 781.5,579.7 782.0,579.6 782.4,579.4 782.9,579.2 783.5,579.0 784.0,578.7 784.5,578.4 785.0,578.0 785.5,577.6 786.0,577.2 786.4,576.7 786.9,576.2 787.4,575.7 787.8,575.1 788.2,574.5 788.6,573.9 789.0,573.3 789.3,572.7 789.7,572.1 789.9,571.4 790.2,570.7 790.4,570.1 790.6,569.4 790.8,568.8 790.9,568.1 791.0,567.5 791.1,566.9 791.1,566.3 791.1,565.7 791.1,565.2 791.0,564.6 790.9,564.1 790.7,563.6 790.5,563.2 790.3,562.8 790.1,562.4 789.8,562.1 789.5,561.8 789.2,561.5 788.8,561.3 788.4,561.2 788.0,561.0" fill="none" stroke="#444" stroke-width="0.8" />
<line x1="786.4" y1="571.9" x2="812.0" y2="587.4" stroke="#8c8c8c" stroke-width="1.1" stroke-dasharray="10 3 2.5 3"/>
<ellipse cx="855.0" cy="611.9" rx="51.04" ry="88.40" transform="rotate(30 855.0 611.9)" fill="#fff" stroke="#111" stroke-width="1.1" />
<ellipse cx="857.6" cy="613.4" rx="51.04" ry="88.40" transform="rotate(30 857.6 613.4)" fill="#fff" stroke="#111" stroke-width="1.25" />
<ellipse cx="857.6" cy="613.4" rx="21.25" ry="36.80" transform="rotate(30 857.6 613.4)" fill="none" stroke="#111" stroke-width="1.1" />
<polyline points="831.9,638.5 832.7,639.9 833.6,641.1 834.7,642.2 835.8,643.2 837.0,644.0 838.4,644.7 839.8,645.2 841.3,645.5 842.8,645.7 844.4,645.7 846.1,645.6 847.8,645.3 849.6,644.8 851.4,644.2 853.2,643.4 855.0,642.5 856.8,641.4 858.6,640.1 860.4,638.8 862.2,637.3 863.9,635.7 865.6,633.9 867.2,632.1 868.8,630.2 870.4,628.1 871.8,626.0 873.2,623.9 874.5,621.7 875.7,619.4 876.8,617.1 877.7,614.7 878.6,612.4 879.4,610.1 880.0,607.7 880.6,605.4 881.0,603.1 881.3,600.9 881.4,598.7 881.5,596.6 881.4,594.6 881.1,592.6 880.8,590.8 880.3,589.0 879.7,587.4 879.0,585.8 878.2,584.4 877.3,583.2 876.2,582.1 875.1,581.1 873.8,580.3 872.5,579.6 871.1,579.1 869.6,578.8 868.0,578.6 866.4,578.6" fill="none" stroke="#888" stroke-width="0.8" />
<ellipse cx="891.8" cy="541.8" rx="2.48" ry="4.30" transform="rotate(30 891.8 541.8)" fill="none" stroke="#111" stroke-width="0.9" />
<polyline points="888.4,544.7 888.5,544.8 888.7,544.9 888.8,545.0 889.0,545.1 889.1,545.1 889.3,545.2 889.5,545.2 889.7,545.2 889.9,545.1 890.1,545.1 890.3,545.0 890.5,544.9 890.7,544.8 890.9,544.7 891.1,544.6 891.4,544.4 891.6,544.3 891.8,544.1 892.0,543.9 892.2,543.7 892.4,543.5 892.5,543.2 892.7,543.0 892.9,542.7 893.0,542.5 893.2,542.2 893.3,542.0 893.4,541.7 893.5,541.4 893.6,541.1 893.7,540.9 893.8,540.6 893.8,540.3 893.9,540.1 893.9,539.8 893.9,539.6 893.9,539.3 893.9,539.1 893.9,538.9 893.8,538.6 893.8,538.4 893.7,538.3 893.6,538.1 893.5,537.9 893.4,537.8 893.2,537.7 893.1,537.6 893.0,537.5 892.8,537.4 892.6,537.4" fill="none" stroke="#777" stroke-width="0.6" />
<ellipse cx="878.2" cy="550.5" rx="2.48" ry="4.30" transform="rotate(30 878.2 550.5)" fill="none" stroke="#111" stroke-width="0.9" />
<polyline points="874.9,553.5 875.0,553.6 875.2,553.7 875.3,553.8 875.5,553.8 875.6,553.9 875.8,553.9 876.0,553.9 876.2,553.9 876.4,553.9 876.6,553.8 876.8,553.8 877.0,553.7 877.2,553.6 877.4,553.5 877.6,553.3 877.9,553.2 878.1,553.0 878.3,552.8 878.5,552.6 878.7,552.4 878.9,552.2 879.0,552.0 879.2,551.7 879.4,551.5 879.5,551.2 879.7,551.0 879.8,550.7 879.9,550.4 880.0,550.2 880.1,549.9 880.2,549.6 880.3,549.3 880.3,549.1 880.4,548.8 880.4,548.6 880.4,548.3 880.4,548.1 880.4,547.8 880.4,547.6 880.3,547.4 880.3,547.2 880.2,547.0 880.1,546.8 880.0,546.7 879.9,546.5 879.7,546.4 879.6,546.3 879.5,546.2 879.3,546.2 879.1,546.1" fill="none" stroke="#777" stroke-width="0.6" />
<ellipse cx="858.8" cy="552.5" rx="2.48" ry="4.30" transform="rotate(30 858.8 552.5)" fill="none" stroke="#111" stroke-width="0.9" />
<polyline points="855.4,555.5 855.5,555.6 855.7,555.7 855.8,555.8 856.0,555.8 856.1,555.9 856.3,555.9 856.5,555.9 856.7,555.9 856.9,555.9 857.1,555.8 857.3,555.8 857.5,555.7 857.7,555.6 857.9,555.5 858.1,555.3 858.4,555.2 858.6,555.0 858.8,554.8 859.0,554.6 859.2,554.4 859.4,554.2 859.5,554.0 859.7,553.7 859.9,553.5 860.0,553.2 860.2,553.0 860.3,552.7 860.4,552.4 860.5,552.2 860.6,551.9 860.7,551.6 860.8,551.3 860.8,551.1 860.9,550.8 860.9,550.6 860.9,550.3 860.9,550.1 860.9,549.8 860.9,549.6 860.8,549.4 860.8,549.2 860.7,549.0 860.6,548.8 860.5,548.7 860.4,548.5 860.2,548.4 860.1,548.3 860.0,548.2 859.8,548.2 859.6,548.1" fill="none" stroke="#777" stroke-width="0.6" />
<ellipse cx="903.8" cy="557.5" rx="2.48" ry="4.30" transform="rotate(30 903.8 557.5)" fill="none" stroke="#111" stroke-width="0.9" />
<polyline points="900.4,560.5 900.5,560.6 900.7,560.7 900.8,560.8 901.0,560.8 901.1,560.9 901.3,560.9 901.5,560.9 901.7,560.9 901.9,560.9 902.1,560.8 902.3,560.8 902.5,560.7 902.7,560.6 902.9,560.5 903.1,560.3 903.4,560.2 903.6,560.0 903.8,559.8 904.0,559.6 904.2,559.4 904.4,559.2 904.5,559.0 904.7,558.7 904.9,558.5 905.0,558.2 905.2,558.0 905.3,557.7 905.4,557.4 905.5,557.2 905.6,556.9 905.7,556.6 905.8,556.3 905.8,556.1 905.9,555.8 905.9,555.6 905.9,555.3 905.9,555.1 905.9,554.8 905.9,554.6 905.8,554.4 905.8,554.2 905.7,554.0 905.6,553.8 905.5,553.7 905.4,553.5 905.2,553.4 905.1,553.3 905.0,553.2 904.8,553.2 904.6,553.1" fill="none" stroke="#777" stroke-width="0.6" />
<ellipse cx="891.8" cy="559.5" rx="2.48" ry="4.30" transform="rotate(30 891.8 559.5)" fill="none" stroke="#111" stroke-width="0.9" />
<polyline points="888.4,562.5 888.5,562.6 888.7,562.7 888.8,562.8 889.0,562.8 889.1,562.9 889.3,562.9 889.5,562.9 889.7,562.9 889.9,562.9 890.1,562.8 890.3,562.8 890.5,562.7 890.7,562.6 890.9,562.5 891.1,562.3 891.4,562.2 891.6,562.0 891.8,561.8 892.0,561.6 892.2,561.4 892.4,561.2 892.5,561.0 892.7,560.7 892.9,560.5 893.0,560.2 893.2,560.0 893.3,559.7 893.4,559.4 893.5,559.2 893.6,558.9 893.7,558.6 893.8,558.3 893.8,558.1 893.9,557.8 893.9,557.6 893.9,557.3 893.9,557.1 893.9,556.8 893.9,556.6 893.8,556.4 893.8,556.2 893.7,556.0 893.6,555.8 893.5,555.7 893.4,555.5 893.2,555.4 893.1,555.3 893.0,555.2 892.8,555.2 892.6,555.1" fill="none" stroke="#777" stroke-width="0.6" />
<ellipse cx="866.8" cy="562.5" rx="2.48" ry="4.30" transform="rotate(30 866.8 562.5)" fill="none" stroke="#111" stroke-width="0.9" />
<polyline points="863.4,565.5 863.5,565.6 863.7,565.7 863.8,565.8 864.0,565.8 864.1,565.9 864.3,565.9 864.5,565.9 864.7,565.9 864.9,565.9 865.1,565.8 865.3,565.8 865.5,565.7 865.7,565.6 865.9,565.5 866.1,565.3 866.4,565.2 866.6,565.0 866.8,564.8 867.0,564.6 867.2,564.4 867.4,564.2 867.5,564.0 867.7,563.7 867.9,563.5 868.0,563.2 868.2,563.0 868.3,562.7 868.4,562.4 868.5,562.2 868.6,561.9 868.7,561.6 868.8,561.3 868.8,561.1 868.9,560.8 868.9,560.6 868.9,560.3 868.9,560.1 868.9,559.8 868.9,559.6 868.8,559.4 868.8,559.2 868.7,559.0 868.6,558.8 868.5,558.7 868.4,558.5 868.2,558.4 868.1,558.3 868.0,558.2 867.8,558.2 867.6,558.1" fill="none" stroke="#777" stroke-width="0.6" />
<ellipse cx="835.8" cy="567.0" rx="2.48" ry="4.30" transform="rotate(30 835.8 567.0)" fill="none" stroke="#111" stroke-width="0.9" />
<polyline points="832.4,570.0 832.5,570.1 832.7,570.2 832.8,570.3 833.0,570.3 833.1,570.4 833.3,570.4 833.5,570.4 833.7,570.4 833.9,570.4 834.1,570.3 834.3,570.3 834.5,570.2 834.7,570.1 834.9,570.0 835.1,569.8 835.4,569.7 835.6,569.5 835.8,569.3 836.0,569.1 836.2,568.9 836.4,568.7 836.5,568.5 836.7,568.2 836.9,568.0 837.0,567.7 837.2,567.5 837.3,567.2 837.4,566.9 837.5,566.7 837.6,566.4 837.7,566.1 837.8,565.8 837.8,565.6 837.9,565.3 837.9,565.1 837.9,564.8 837.9,564.6 837.9,564.3 837.9,564.1 837.8,563.9 837.8,563.7 837.7,563.5 837.6,563.3 837.5,563.2 837.4,563.0 837.2,562.9 837.1,562.8 837.0,562.7 836.8,562.7 836.6,562.6" fill="none" stroke="#777" stroke-width="0.6" />
<ellipse cx="849.2" cy="568.0" rx="2.48" ry="4.30" transform="rotate(30 849.2 568.0)" fill="none" stroke="#111" stroke-width="0.9" />
<polyline points="845.9,571.0 846.0,571.1 846.2,571.2 846.3,571.3 846.5,571.3 846.6,571.4 846.8,571.4 847.0,571.4 847.2,571.4 847.4,571.4 847.6,571.3 847.8,571.3 848.0,571.2 848.2,571.1 848.4,571.0 848.6,570.8 848.9,570.7 849.1,570.5 849.3,570.3 849.5,570.1 849.7,569.9 849.9,569.7 850.0,569.5 850.2,569.2 850.4,569.0 850.5,568.7 850.7,568.5 850.8,568.2 850.9,567.9 851.0,567.7 851.1,567.4 851.2,567.1 851.3,566.8 851.3,566.6 851.4,566.3 851.4,566.1 851.4,565.8 851.4,565.6 851.4,565.3 851.4,565.1 851.3,564.9 851.3,564.7 851.2,564.5 851.1,564.3 851.0,564.2 850.9,564.0 850.7,563.9 850.6,563.8 850.5,563.7 850.3,563.7 850.1,563.6" fill="none" stroke="#777" stroke-width="0.6" />
<ellipse cx="897.0" cy="576.2" rx="2.48" ry="4.30" transform="rotate(30 897.0 576.2)" fill="none" stroke="#111" stroke-width="0.9" />
<polyline points="893.6,579.2 893.8,579.3 893.9,579.4 894.1,579.5 894.2,579.6 894.4,579.6 894.6,579.7 894.8,579.7 894.9,579.7 895.1,579.6 895.3,579.6 895.6,579.5 895.8,579.4 896.0,579.3 896.2,579.2 896.4,579.1 896.6,578.9 896.8,578.8 897.0,578.6 897.2,578.4 897.4,578.2 897.6,578.0 897.8,577.7 898.0,577.5 898.1,577.2 898.3,577.0 898.4,576.7 898.6,576.5 898.7,576.2 898.8,575.9 898.9,575.6 899.0,575.4 899.0,575.1 899.1,574.8 899.1,574.6 899.2,574.3 899.2,574.1 899.2,573.8 899.2,573.6 899.1,573.4 899.1,573.1 899.0,572.9 898.9,572.8 898.8,572.6 898.7,572.4 898.6,572.3 898.5,572.2 898.4,572.1 898.2,572.0 898.0,571.9 897.9,571.9" fill="none" stroke="#777" stroke-width="0.6" />
<ellipse cx="907.0" cy="580.0" rx="2.48" ry="4.30" transform="rotate(30 907.0 580.0)" fill="none" stroke="#111" stroke-width="0.9" />
<polyline points="903.6,583.0 903.8,583.1 903.9,583.2 904.1,583.3 904.2,583.3 904.4,583.4 904.6,583.4 904.8,583.4 904.9,583.4 905.1,583.4 905.3,583.3 905.6,583.3 905.8,583.2 906.0,583.1 906.2,583.0 906.4,582.8 906.6,582.7 906.8,582.5 907.0,582.3 907.2,582.1 907.4,581.9 907.6,581.7 907.8,581.5 908.0,581.2 908.1,581.0 908.3,580.7 908.4,580.5 908.6,580.2 908.7,579.9 908.8,579.7 908.9,579.4 909.0,579.1 909.0,578.8 909.1,578.6 909.1,578.3 909.2,578.1 909.2,577.8 909.2,577.6 909.2,577.3 909.1,577.1 909.1,576.9 909.0,576.7 908.9,576.5 908.8,576.3 908.7,576.2 908.6,576.0 908.5,575.9 908.4,575.8 908.2,575.7 908.0,575.7 907.9,575.6" fill="none" stroke="#777" stroke-width="0.6" />
<ellipse cx="830.0" cy="584.2" rx="2.48" ry="4.30" transform="rotate(30 830.0 584.2)" fill="none" stroke="#111" stroke-width="0.9" />
<polyline points="826.6,587.2 826.8,587.3 826.9,587.4 827.1,587.5 827.2,587.6 827.4,587.6 827.6,587.7 827.8,587.7 827.9,587.7 828.1,587.6 828.3,587.6 828.6,587.5 828.8,587.4 829.0,587.3 829.2,587.2 829.4,587.1 829.6,586.9 829.8,586.8 830.0,586.6 830.2,586.4 830.4,586.2 830.6,586.0 830.8,585.7 831.0,585.5 831.1,585.2 831.3,585.0 831.4,584.7 831.6,584.5 831.7,584.2 831.8,583.9 831.9,583.6 832.0,583.4 832.0,583.1 832.1,582.8 832.1,582.6 832.2,582.3 832.2,582.1 832.2,581.8 832.2,581.6 832.1,581.4 832.1,581.1 832.0,580.9 831.9,580.8 831.8,580.6 831.7,580.4 831.6,580.3 831.5,580.2 831.4,580.1 831.2,580.0 831.0,579.9 830.9,579.9" fill="none" stroke="#777" stroke-width="0.6" />
<ellipse cx="914.5" cy="588.8" rx="2.48" ry="4.30" transform="rotate(30 914.5 588.8)" fill="none" stroke="#111" stroke-width="0.9" />
<polyline points="911.1,591.7 911.3,591.8 911.4,591.9 911.6,592.0 911.7,592.1 911.9,592.1 912.1,592.2 912.3,592.2 912.4,592.2 912.6,592.1 912.8,592.1 913.1,592.0 913.3,591.9 913.5,591.8 913.7,591.7 913.9,591.6 914.1,591.4 914.3,591.3 914.5,591.1 914.7,590.9 914.9,590.7 915.1,590.5 915.3,590.2 915.5,590.0 915.6,589.7 915.8,589.5 915.9,589.2 916.1,589.0 916.2,588.7 916.3,588.4 916.4,588.1 916.5,587.9 916.5,587.6 916.6,587.3 916.6,587.1 916.7,586.8 916.7,586.6 916.7,586.3 916.7,586.1 916.6,585.9 916.6,585.6 916.5,585.4 916.4,585.3 916.3,585.1 916.2,584.9 916.1,584.8 916.0,584.7 915.9,584.6 915.7,584.5 915.5,584.4 915.4,584.4" fill="none" stroke="#777" stroke-width="0.6" />
<ellipse cx="827.0" cy="599.2" rx="2.48" ry="4.30" transform="rotate(30 827.0 599.2)" fill="none" stroke="#111" stroke-width="0.9" />
<polyline points="823.6,602.2 823.8,602.3 823.9,602.4 824.1,602.5 824.2,602.6 824.4,602.6 824.6,602.7 824.8,602.7 824.9,602.7 825.1,602.6 825.3,602.6 825.6,602.5 825.8,602.4 826.0,602.3 826.2,602.2 826.4,602.1 826.6,601.9 826.8,601.8 827.0,601.6 827.2,601.4 827.4,601.2 827.6,601.0 827.8,600.7 828.0,600.5 828.1,600.2 828.3,600.0 828.4,599.7 828.6,599.5 828.7,599.2 828.8,598.9 828.9,598.6 829.0,598.4 829.0,598.1 829.1,597.8 829.1,597.6 829.2,597.3 829.2,597.1 829.2,596.8 829.2,596.6 829.1,596.4 829.1,596.1 829.0,595.9 828.9,595.8 828.8,595.6 828.7,595.4 828.6,595.3 828.5,595.2 828.4,595.1 828.2,595.0 828.0,594.9 827.9,594.9" fill="none" stroke="#777" stroke-width="0.6" />
<ellipse cx="900.8" cy="605.0" rx="2.48" ry="4.30" transform="rotate(30 900.8 605.0)" fill="none" stroke="#111" stroke-width="0.9" />
<polyline points="897.4,608.0 897.5,608.1 897.7,608.2 897.8,608.3 898.0,608.3 898.1,608.4 898.3,608.4 898.5,608.4 898.7,608.4 898.9,608.4 899.1,608.3 899.3,608.3 899.5,608.2 899.7,608.1 899.9,608.0 900.1,607.8 900.4,607.7 900.6,607.5 900.8,607.3 901.0,607.1 901.2,606.9 901.4,606.7 901.5,606.5 901.7,606.2 901.9,606.0 902.0,605.7 902.2,605.5 902.3,605.2 902.4,604.9 902.5,604.7 902.6,604.4 902.7,604.1 902.8,603.8 902.8,603.6 902.9,603.3 902.9,603.1 902.9,602.8 902.9,602.6 902.9,602.3 902.9,602.1 902.8,601.9 902.8,601.7 902.7,601.5 902.6,601.3 902.5,601.2 902.4,601.0 902.2,600.9 902.1,600.8 902.0,600.7 901.8,600.7 901.6,600.6" fill="none" stroke="#777" stroke-width="0.6" />
<ellipse cx="813.0" cy="608.2" rx="2.48" ry="4.30" transform="rotate(30 813.0 608.2)" fill="none" stroke="#111" stroke-width="0.9" />
<polyline points="809.6,611.2 809.8,611.3 809.9,611.4 810.1,611.5 810.2,611.6 810.4,611.6 810.6,611.7 810.8,611.7 810.9,611.7 811.1,611.6 811.3,611.6 811.6,611.5 811.8,611.4 812.0,611.3 812.2,611.2 812.4,611.1 812.6,610.9 812.8,610.8 813.0,610.6 813.2,610.4 813.4,610.2 813.6,610.0 813.8,609.7 814.0,609.5 814.1,609.2 814.3,609.0 814.4,608.7 814.6,608.5 814.7,608.2 814.8,607.9 814.9,607.6 815.0,607.4 815.0,607.1 815.1,606.8 815.1,606.6 815.2,606.3 815.2,606.1 815.2,605.8 815.2,605.6 815.1,605.4 815.1,605.1 815.0,604.9 814.9,604.8 814.8,604.6 814.7,604.4 814.6,604.3 814.5,604.2 814.4,604.1 814.2,604.0 814.0,603.9 813.9,603.9" fill="none" stroke="#777" stroke-width="0.6" />
<ellipse cx="903.2" cy="618.2" rx="2.48" ry="4.30" transform="rotate(30 903.2 618.2)" fill="none" stroke="#111" stroke-width="0.9" />
<polyline points="899.9,621.2 900.0,621.3 900.2,621.4 900.3,621.5 900.5,621.6 900.6,621.6 900.8,621.7 901.0,621.7 901.2,621.7 901.4,621.6 901.6,621.6 901.8,621.5 902.0,621.4 902.2,621.3 902.4,621.2 902.6,621.1 902.9,620.9 903.1,620.8 903.3,620.6 903.5,620.4 903.7,620.2 903.9,620.0 904.0,619.7 904.2,619.5 904.4,619.2 904.5,619.0 904.7,618.7 904.8,618.5 904.9,618.2 905.0,617.9 905.1,617.6 905.2,617.4 905.3,617.1 905.3,616.8 905.4,616.6 905.4,616.3 905.4,616.1 905.4,615.8 905.4,615.6 905.4,615.4 905.3,615.1 905.3,614.9 905.2,614.8 905.1,614.6 905.0,614.4 904.9,614.3 904.7,614.2 904.6,614.1 904.5,614.0 904.3,613.9 904.1,613.9" fill="none" stroke="#777" stroke-width="0.6" />
<ellipse cx="815.5" cy="621.8" rx="2.48" ry="4.30" transform="rotate(30 815.5 621.8)" fill="none" stroke="#111" stroke-width="0.9" />
<polyline points="812.1,624.7 812.3,624.8 812.4,624.9 812.6,625.0 812.7,625.1 812.9,625.1 813.1,625.2 813.3,625.2 813.4,625.2 813.6,625.1 813.8,625.1 814.1,625.0 814.3,624.9 814.5,624.8 814.7,624.7 814.9,624.6 815.1,624.4 815.3,624.3 815.5,624.1 815.7,623.9 815.9,623.7 816.1,623.5 816.3,623.2 816.5,623.0 816.6,622.7 816.8,622.5 816.9,622.2 817.1,622.0 817.2,621.7 817.3,621.4 817.4,621.1 817.5,620.9 817.5,620.6 817.6,620.3 817.6,620.1 817.7,619.8 817.7,619.6 817.7,619.3 817.7,619.1 817.6,618.9 817.6,618.6 817.5,618.4 817.4,618.3 817.3,618.1 817.2,617.9 817.1,617.8 817.0,617.7 816.9,617.6 816.7,617.5 816.5,617.4 816.4,617.4" fill="none" stroke="#777" stroke-width="0.6" />
<ellipse cx="802.0" cy="638.2" rx="2.48" ry="4.30" transform="rotate(30 802.0 638.2)" fill="none" stroke="#111" stroke-width="0.9" />
<polyline points="798.6,641.2 798.8,641.3 798.9,641.4 799.1,641.5 799.2,641.6 799.4,641.6 799.6,641.7 799.8,641.7 799.9,641.7 800.1,641.6 800.3,641.6 800.6,641.5 800.8,641.4 801.0,641.3 801.2,641.2 801.4,641.1 801.6,640.9 801.8,640.8 802.0,640.6 802.2,640.4 802.4,640.2 802.6,640.0 802.8,639.7 803.0,639.5 803.1,639.2 803.3,639.0 803.4,638.7 803.6,638.5 803.7,638.2 803.8,637.9 803.9,637.6 804.0,637.4 804.0,637.1 804.1,636.8 804.1,636.6 804.2,636.3 804.2,636.1 804.2,635.8 804.2,635.6 804.1,635.4 804.1,635.1 804.0,634.9 803.9,634.8 803.8,634.6 803.7,634.4 803.6,634.3 803.5,634.2 803.4,634.1 803.2,634.0 803.0,633.9 802.9,633.9" fill="none" stroke="#777" stroke-width="0.6" />
<ellipse cx="886.2" cy="643.0" rx="2.48" ry="4.30" transform="rotate(30 886.2 643.0)" fill="none" stroke="#111" stroke-width="0.9" />
<polyline points="882.9,646.0 883.0,646.1 883.2,646.2 883.3,646.3 883.5,646.3 883.6,646.4 883.8,646.4 884.0,646.4 884.2,646.4 884.4,646.4 884.6,646.3 884.8,646.3 885.0,646.2 885.2,646.1 885.4,646.0 885.6,645.8 885.9,645.7 886.1,645.5 886.3,645.3 886.5,645.1 886.7,644.9 886.9,644.7 887.0,644.5 887.2,644.2 887.4,644.0 887.5,643.7 887.7,643.5 887.8,643.2 887.9,642.9 888.0,642.7 888.1,642.4 888.2,642.1 888.3,641.8 888.3,641.6 888.4,641.3 888.4,641.1 888.4,640.8 888.4,640.6 888.4,640.3 888.4,640.1 888.3,639.9 888.3,639.7 888.2,639.5 888.1,639.3 888.0,639.2 887.9,639.0 887.7,638.9 887.6,638.8 887.5,638.7 887.3,638.7 887.1,638.6" fill="none" stroke="#777" stroke-width="0.6" />
<ellipse cx="809.5" cy="646.8" rx="2.48" ry="4.30" transform="rotate(30 809.5 646.8)" fill="none" stroke="#111" stroke-width="0.9" />
<polyline points="806.1,649.7 806.3,649.8 806.4,649.9 806.6,650.0 806.7,650.1 806.9,650.1 807.1,650.2 807.3,650.2 807.4,650.2 807.6,650.1 807.8,650.1 808.1,650.0 808.3,649.9 808.5,649.8 808.7,649.7 808.9,649.6 809.1,649.4 809.3,649.3 809.5,649.1 809.7,648.9 809.9,648.7 810.1,648.5 810.3,648.2 810.5,648.0 810.6,647.7 810.8,647.5 810.9,647.2 811.1,647.0 811.2,646.7 811.3,646.4 811.4,646.1 811.5,645.9 811.5,645.6 811.6,645.3 811.6,645.1 811.7,644.8 811.7,644.6 811.7,644.3 811.7,644.1 811.6,643.9 811.6,643.6 811.5,643.4 811.4,643.3 811.3,643.1 811.2,642.9 811.1,642.8 811.0,642.7 810.9,642.6 810.7,642.5 810.5,642.4 810.4,642.4" fill="none" stroke="#777" stroke-width="0.6" />
<ellipse cx="819.2" cy="650.8" rx="2.48" ry="4.30" transform="rotate(30 819.2 650.8)" fill="none" stroke="#111" stroke-width="0.9" />
<polyline points="815.9,653.7 816.0,653.8 816.2,653.9 816.3,654.0 816.5,654.1 816.6,654.1 816.8,654.2 817.0,654.2 817.2,654.2 817.4,654.1 817.6,654.1 817.8,654.0 818.0,653.9 818.2,653.8 818.4,653.7 818.6,653.6 818.9,653.4 819.1,653.3 819.3,653.1 819.5,652.9 819.7,652.7 819.9,652.5 820.0,652.2 820.2,652.0 820.4,651.7 820.5,651.5 820.7,651.2 820.8,651.0 820.9,650.7 821.0,650.4 821.1,650.1 821.2,649.9 821.3,649.6 821.3,649.3 821.4,649.1 821.4,648.8 821.4,648.6 821.4,648.3 821.4,648.1 821.4,647.9 821.3,647.6 821.3,647.4 821.2,647.3 821.1,647.1 821.0,646.9 820.9,646.8 820.7,646.7 820.6,646.6 820.5,646.5 820.3,646.4 820.1,646.4" fill="none" stroke="#777" stroke-width="0.6" />
<ellipse cx="867.0" cy="658.8" rx="2.48" ry="4.30" transform="rotate(30 867.0 658.8)" fill="none" stroke="#111" stroke-width="0.9" />
<polyline points="863.6,661.7 863.8,661.8 863.9,661.9 864.1,662.0 864.2,662.1 864.4,662.1 864.6,662.2 864.8,662.2 864.9,662.2 865.1,662.1 865.3,662.1 865.6,662.0 865.8,661.9 866.0,661.8 866.2,661.7 866.4,661.6 866.6,661.4 866.8,661.3 867.0,661.1 867.2,660.9 867.4,660.7 867.6,660.5 867.8,660.2 868.0,660.0 868.1,659.7 868.3,659.5 868.4,659.2 868.6,659.0 868.7,658.7 868.8,658.4 868.9,658.1 869.0,657.9 869.0,657.6 869.1,657.3 869.1,657.1 869.2,656.8 869.2,656.6 869.2,656.3 869.2,656.1 869.1,655.9 869.1,655.6 869.0,655.4 868.9,655.3 868.8,655.1 868.7,654.9 868.6,654.8 868.5,654.7 868.4,654.6 868.2,654.5 868.0,654.4 867.9,654.4" fill="none" stroke="#777" stroke-width="0.6" />
<ellipse cx="880.8" cy="660.0" rx="2.48" ry="4.30" transform="rotate(30 880.8 660.0)" fill="none" stroke="#111" stroke-width="0.9" />
<polyline points="877.4,663.0 877.5,663.1 877.7,663.2 877.8,663.3 878.0,663.3 878.1,663.4 878.3,663.4 878.5,663.4 878.7,663.4 878.9,663.4 879.1,663.3 879.3,663.3 879.5,663.2 879.7,663.1 879.9,663.0 880.1,662.8 880.4,662.7 880.6,662.5 880.8,662.3 881.0,662.1 881.2,661.9 881.4,661.7 881.5,661.5 881.7,661.2 881.9,661.0 882.0,660.7 882.2,660.5 882.3,660.2 882.4,659.9 882.5,659.7 882.6,659.4 882.7,659.1 882.8,658.8 882.8,658.6 882.9,658.3 882.9,658.1 882.9,657.8 882.9,657.6 882.9,657.3 882.9,657.1 882.8,656.9 882.8,656.7 882.7,656.5 882.6,656.3 882.5,656.2 882.4,656.0 882.2,655.9 882.1,655.8 882.0,655.7 881.8,655.7 881.6,655.6" fill="none" stroke="#777" stroke-width="0.6" />
<ellipse cx="849.2" cy="665.0" rx="2.48" ry="4.30" transform="rotate(30 849.2 665.0)" fill="none" stroke="#111" stroke-width="0.9" />
<polyline points="845.9,668.0 846.0,668.1 846.2,668.2 846.3,668.3 846.5,668.3 846.6,668.4 846.8,668.4 847.0,668.4 847.2,668.4 847.4,668.4 847.6,668.3 847.8,668.3 848.0,668.2 848.2,668.1 848.4,668.0 848.6,667.8 848.9,667.7 849.1,667.5 849.3,667.3 849.5,667.1 849.7,666.9 849.9,666.7 850.0,666.5 850.2,666.2 850.4,666.0 850.5,665.7 850.7,665.5 850.8,665.2 850.9,664.9 851.0,664.7 851.1,664.4 851.2,664.1 851.3,663.8 851.3,663.6 851.4,663.3 851.4,663.1 851.4,662.8 851.4,662.6 851.4,662.3 851.4,662.1 851.3,661.9 851.3,661.7 851.2,661.5 851.1,661.3 851.0,661.2 850.9,661.0 850.7,660.9 850.6,660.8 850.5,660.7 850.3,660.7 850.1,660.6" fill="none" stroke="#777" stroke-width="0.6" />
<ellipse cx="824.2" cy="667.5" rx="2.48" ry="4.30" transform="rotate(30 824.2 667.5)" fill="none" stroke="#111" stroke-width="0.9" />
<polyline points="820.9,670.5 821.0,670.6 821.2,670.7 821.3,670.8 821.5,670.8 821.6,670.9 821.8,670.9 822.0,670.9 822.2,670.9 822.4,670.9 822.6,670.8 822.8,670.8 823.0,670.7 823.2,670.6 823.4,670.5 823.6,670.3 823.9,670.2 824.1,670.0 824.3,669.8 824.5,669.6 824.7,669.4 824.9,669.2 825.0,669.0 825.2,668.7 825.4,668.5 825.5,668.2 825.7,668.0 825.8,667.7 825.9,667.4 826.0,667.2 826.1,666.9 826.2,666.6 826.3,666.3 826.3,666.1 826.4,665.8 826.4,665.6 826.4,665.3 826.4,665.1 826.4,664.8 826.4,664.6 826.3,664.4 826.3,664.2 826.2,664.0 826.1,663.8 826.0,663.7 825.9,663.5 825.7,663.4 825.6,663.3 825.5,663.2 825.3,663.2 825.1,663.1" fill="none" stroke="#777" stroke-width="0.6" />
<ellipse cx="812.5" cy="669.5" rx="2.48" ry="4.30" transform="rotate(30 812.5 669.5)" fill="none" stroke="#111" stroke-width="0.9" />
<polyline points="809.1,672.5 809.3,672.6 809.4,672.7 809.6,672.8 809.7,672.8 809.9,672.9 810.1,672.9 810.3,672.9 810.4,672.9 810.6,672.9 810.8,672.8 811.1,672.8 811.3,672.7 811.5,672.6 811.7,672.5 811.9,672.3 812.1,672.2 812.3,672.0 812.5,671.8 812.7,671.6 812.9,671.4 813.1,671.2 813.3,671.0 813.5,670.7 813.6,670.5 813.8,670.2 813.9,670.0 814.1,669.7 814.2,669.4 814.3,669.2 814.4,668.9 814.5,668.6 814.5,668.3 814.6,668.1 814.6,667.8 814.7,667.6 814.7,667.3 814.7,667.1 814.7,666.8 814.6,666.6 814.6,666.4 814.5,666.2 814.4,666.0 814.3,665.8 814.2,665.7 814.1,665.5 814.0,665.4 813.9,665.3 813.7,665.2 813.5,665.2 813.4,665.1" fill="none" stroke="#777" stroke-width="0.6" />
<ellipse cx="857.5" cy="675.0" rx="2.48" ry="4.30" transform="rotate(30 857.5 675.0)" fill="none" stroke="#111" stroke-width="0.9" />
<polyline points="854.1,678.0 854.3,678.1 854.4,678.2 854.6,678.3 854.7,678.3 854.9,678.4 855.1,678.4 855.3,678.4 855.4,678.4 855.6,678.4 855.8,678.3 856.1,678.3 856.3,678.2 856.5,678.1 856.7,678.0 856.9,677.8 857.1,677.7 857.3,677.5 857.5,677.3 857.7,677.1 857.9,676.9 858.1,676.7 858.3,676.5 858.5,676.2 858.6,676.0 858.8,675.7 858.9,675.5 859.1,675.2 859.2,674.9 859.3,674.7 859.4,674.4 859.5,674.1 859.5,673.8 859.6,673.6 859.6,673.3 859.7,673.1 859.7,672.8 859.7,672.6 859.7,672.3 859.6,672.1 859.6,671.9 859.5,671.7 859.4,671.5 859.3,671.3 859.2,671.2 859.1,671.0 859.0,670.9 858.9,670.8 858.7,670.7 858.5,670.7 858.4,670.6" fill="none" stroke="#777" stroke-width="0.6" />
<ellipse cx="837.5" cy="676.2" rx="2.48" ry="4.30" transform="rotate(30 837.5 676.2)" fill="none" stroke="#111" stroke-width="0.9" />
<polyline points="834.1,679.2 834.3,679.3 834.4,679.4 834.6,679.5 834.7,679.6 834.9,679.6 835.1,679.7 835.3,679.7 835.4,679.7 835.6,679.6 835.8,679.6 836.1,679.5 836.3,679.4 836.5,679.3 836.7,679.2 836.9,679.1 837.1,678.9 837.3,678.8 837.5,678.6 837.7,678.4 837.9,678.2 838.1,678.0 838.3,677.7 838.5,677.5 838.6,677.2 838.8,677.0 838.9,676.7 839.1,676.5 839.2,676.2 839.3,675.9 839.4,675.6 839.5,675.4 839.5,675.1 839.6,674.8 839.6,674.6 839.7,674.3 839.7,674.1 839.7,673.8 839.7,673.6 839.6,673.4 839.6,673.1 839.5,672.9 839.4,672.8 839.3,672.6 839.2,672.4 839.1,672.3 839.0,672.2 838.9,672.1 838.7,672.0 838.5,671.9 838.4,671.9" fill="none" stroke="#777" stroke-width="0.6" />
<ellipse cx="825.0" cy="684.5" rx="2.48" ry="4.30" transform="rotate(30 825.0 684.5)" fill="none" stroke="#111" stroke-width="0.9" />
<polyline points="821.6,687.5 821.8,687.6 821.9,687.7 822.1,687.8 822.2,687.8 822.4,687.9 822.6,687.9 822.8,687.9 822.9,687.9 823.1,687.9 823.3,687.8 823.6,687.8 823.8,687.7 824.0,687.6 824.2,687.5 824.4,687.3 824.6,687.2 824.8,687.0 825.0,686.8 825.2,686.6 825.4,686.4 825.6,686.2 825.8,686.0 826.0,685.7 826.1,685.5 826.3,685.2 826.4,685.0 826.6,684.7 826.7,684.4 826.8,684.2 826.9,683.9 827.0,683.6 827.0,683.3 827.1,683.1 827.1,682.8 827.2,682.6 827.2,682.3 827.2,682.1 827.2,681.8 827.1,681.6 827.1,681.4 827.0,681.2 826.9,681.0 826.8,680.8 826.7,680.7 826.6,680.5 826.5,680.4 826.4,680.3 826.2,680.2 826.0,680.2 825.9,680.1" fill="none" stroke="#777" stroke-width="0.6" />
<ellipse cx="876.2" cy="573.8" rx="1.73" ry="3.00" transform="rotate(30 876.2 573.8)" fill="none" stroke="#111" stroke-width="0.9" />
<ellipse cx="840.0" cy="595.0" rx="1.73" ry="3.00" transform="rotate(30 840.0 595.0)" fill="none" stroke="#111" stroke-width="0.9" />
<ellipse cx="887.5" cy="607.5" rx="1.73" ry="3.00" transform="rotate(30 887.5 607.5)" fill="none" stroke="#111" stroke-width="0.9" />
<ellipse cx="889.2" cy="626.8" rx="1.73" ry="3.00" transform="rotate(30 889.2 626.8)" fill="none" stroke="#111" stroke-width="0.9" />
<ellipse cx="828.8" cy="641.2" rx="1.73" ry="3.00" transform="rotate(30 828.8 641.2)" fill="none" stroke="#111" stroke-width="0.9" />
<ellipse cx="858.2" cy="648.8" rx="1.73" ry="3.00" transform="rotate(30 858.2 648.8)" fill="none" stroke="#111" stroke-width="0.9" />
<line x1="839.4" y1="602.9" x2="921.0" y2="650.0" stroke="#8c8c8c" stroke-width="1.1" stroke-dasharray="10 3 2.5 3"/>
<line x1="877.0" y1="574.6" x2="952.0" y2="617.9" stroke="#8c8c8c" stroke-width="1.1" stroke-dasharray="10 3 2.5 3"/>
<polygon points="952.1,622.2 968.1,630.4 970.9,625.6 954.9,617.4" fill="#fff" stroke="none" stroke-width="1.0" stroke-linejoin="round" />
<line x1="952.1" y1="622.2" x2="968.1" y2="630.4" stroke="#111" stroke-width="1.0" />
<line x1="954.9" y1="617.4" x2="970.9" y2="625.6" stroke="#111" stroke-width="1.0" />
<polyline points="954.9,617.4 954.8,617.3 954.7,617.3 954.6,617.3 954.4,617.2 954.3,617.2 954.2,617.2 954.1,617.3 953.9,617.3 953.8,617.3 953.6,617.4 953.5,617.5 953.4,617.6 953.2,617.6 953.1,617.7 952.9,617.9 952.8,618.0 952.7,618.1 952.5,618.3 952.4,618.4 952.3,618.6 952.2,618.7 952.1,618.9 952.0,619.0 951.9,619.2 951.8,619.4 951.7,619.6 951.7,619.8 951.6,619.9 951.6,620.1 951.5,620.3 951.5,620.5 951.5,620.6 951.5,620.8 951.5,621.0 951.5,621.1 951.5,621.3 951.5,621.4 951.6,621.5 951.6,621.7 951.7,621.8 951.8,621.9 951.8,622.0 951.9,622.1 952.0,622.2 952.1,622.2" fill="none" stroke="#111" stroke-width="1.0" />
<ellipse cx="969.5" cy="628.0" rx="4.20" ry="5.20" transform="rotate(30 969.5 628.0)" fill="#fff" stroke="#111" stroke-width="1.0" />
<ellipse cx="970.4" cy="628.5" rx="1.60" ry="2.00" transform="rotate(30 970.4 628.5)" fill="none" stroke="#111" stroke-width="0.8" />
<polygon points="921.5,657.1 1065.5,740.3 1071.5,729.7 927.5,646.5" fill="#fff" stroke="none" stroke-width="1.0" stroke-linejoin="round" />
<line x1="921.5" y1="657.1" x2="1065.5" y2="740.3" stroke="#111" stroke-width="1.1" />
<line x1="927.5" y1="646.5" x2="1071.5" y2="729.7" stroke="#111" stroke-width="1.1" />
<polyline points="927.5,646.5 927.3,646.4 927.1,646.3 926.8,646.3 926.6,646.2 926.3,646.2 926.0,646.3 925.8,646.3 925.5,646.4 925.2,646.5 924.9,646.6 924.6,646.8 924.3,647.0 924.0,647.2 923.7,647.4 923.4,647.6 923.1,647.9 922.8,648.2 922.5,648.5 922.3,648.8 922.0,649.1 921.8,649.5 921.6,649.9 921.3,650.2 921.1,650.6 921.0,651.0 920.8,651.4 920.7,651.8 920.5,652.1 920.4,652.5 920.3,652.9 920.3,653.3 920.2,653.7 920.2,654.0 920.2,654.4 920.2,654.7 920.2,655.0 920.3,655.3 920.4,655.6 920.5,655.9 920.6,656.2 920.7,656.4 920.9,656.6 921.1,656.8 921.2,656.9 921.5,657.1" fill="#fff" stroke="#111" stroke-width="1.0" />
<polyline points="934.5,664.6 934.7,664.7 934.9,664.8 935.2,664.8 935.4,664.9 935.7,664.9 936.0,664.8 936.2,664.8 936.5,664.7 936.8,664.6 937.1,664.5 937.4,664.3 937.7,664.1 938.0,663.9 938.3,663.7 938.6,663.5 938.9,663.2 939.2,662.9 939.5,662.6 939.7,662.3 940.0,662.0 940.2,661.6 940.4,661.2 940.7,660.9 940.9,660.5 941.0,660.1 941.2,659.7 941.3,659.3 941.5,659.0 941.6,658.6 941.7,658.2 941.7,657.8 941.8,657.4 941.8,657.1 941.8,656.7 941.8,656.4 941.8,656.1 941.7,655.8 941.6,655.5 941.5,655.2 941.4,654.9 941.3,654.7 941.1,654.5 940.9,654.3 940.8,654.2 940.5,654.0" fill="none" stroke="#111" stroke-width="0.8" />
<line x1="940.7" y1="656.7" x2="1070.2" y2="732.1" stroke="#aaa" stroke-width="1.0" />
<ellipse cx="1069.0" cy="735.9" rx="7.33" ry="12.70" transform="rotate(30 1069.0 735.9)" fill="#fff" stroke="#111" stroke-width="1.0" />
<ellipse cx="1070.7" cy="736.9" rx="7.33" ry="12.70" transform="rotate(30 1070.7 736.9)" fill="#fff" stroke="#111" stroke-width="1.0" />
<polyline points="1065.3,743.0 1065.4,743.4 1065.6,743.8 1065.8,744.2 1066.0,744.5 1066.2,744.8 1066.5,745.0 1066.8,745.3 1067.1,745.5 1067.5,745.6 1067.8,745.7 1068.2,745.8 1068.6,745.8 1069.0,745.8 1069.4,745.7 1069.9,745.6 1070.3,745.5 1070.8,745.3 1071.2,745.1 1071.7,744.8 1072.1,744.6 1072.6,744.2 1073.0,743.9 1073.5,743.5 1073.9,743.1 1074.3,742.6 1074.7,742.1 1075.1,741.7 1075.5,741.1 1075.8,740.6 1076.2,740.1 1076.5,739.5 1076.8,738.9 1077.0,738.3 1077.3,737.8 1077.5,737.2 1077.6,736.6 1077.8,736.0 1077.9,735.4 1078.0,734.9 1078.0,734.3 1078.1,733.8 1078.1,733.3 1078.0,732.8 1078.0,732.3 1077.8,731.8 1077.7,731.4 1077.6,731.0 1077.4,730.6 1077.1,730.3 1076.9,730.0 1076.6,729.8 1076.3,729.5 1076.0,729.3 1075.7,729.2 1075.3,729.1 1074.9,729.0 1074.5,729.0 1074.1,729.0 1073.7,729.1 1073.2,729.2" fill="none" stroke="#111" stroke-width="0.9" />
<polygon points="1067.0,745.4 1075.6,750.4 1084.8,734.4 1076.2,729.4" fill="#fff" stroke="none" stroke-width="1.0" stroke-linejoin="round" />
<line x1="1067.0" y1="745.4" x2="1075.6" y2="750.4" stroke="#111" stroke-width="1.0" />
<line x1="1076.2" y1="729.4" x2="1084.8" y2="734.4" stroke="#111" stroke-width="1.0" />
<ellipse cx="1080.2" cy="742.4" rx="5.31" ry="9.20" transform="rotate(30 1080.2 742.4)" fill="#fff" stroke="#111" stroke-width="1.0" />
<ellipse cx="1080.2" cy="742.4" rx="4.22" ry="7.30" transform="rotate(30 1080.2 742.4)" fill="none" stroke="#777" stroke-width="0.7" />
<ellipse cx="1080.2" cy="742.4" rx="2.66" ry="4.60" transform="rotate(30 1080.2 742.4)" fill="none" stroke="#111" stroke-width="1.1" />
<line x1="1073.9" y1="733.4" x2="1082.5" y2="738.4" stroke="#666" stroke-width="0.7" />
<line x1="1069.3" y1="741.4" x2="1077.9" y2="746.4" stroke="#666" stroke-width="0.7" />
<g style="filter:grayscale(1)">
<text x="52.0" y="69.0" font-size="23.5" text-anchor="middle">11</text>
<text x="86.0" y="88.8" font-size="23.5" text-anchor="middle">10</text>
<text x="155.0" y="100.5" font-size="23.5" text-anchor="middle">9</text>
<text x="426.3" y="54.6" font-size="23.5" text-anchor="middle">5</text>
<text x="624.0" y="225.0" font-size="23.5" text-anchor="middle">4</text>
<text x="909.0" y="482.5" font-size="23.5" text-anchor="middle">6</text>
<text x="992.5" y="567.5" font-size="23.5" text-anchor="middle">7</text>
<text x="1025.0" y="653.5" font-size="23.5" text-anchor="middle">8</text>
<text x="381.0" y="671.0" font-size="23.5" text-anchor="middle">2</text>
<text x="567.3" y="671.0" font-size="23.5" text-anchor="middle">2</text>
<text x="643.0" y="671.0" font-size="23.5" text-anchor="middle">3</text>
<text x="513.0" y="704.7" font-size="23.5" text-anchor="middle">1</text>
</g>
<line x1="50.0" y1="72.5" x2="27.2" y2="121.4" stroke="#4a4a4a" stroke-width="1.0" />
<line x1="82.5" y1="90.0" x2="59.5" y2="136.6" stroke="#4a4a4a" stroke-width="1.0" />
<line x1="149.0" y1="102.5" x2="121.0" y2="154.0" stroke="#4a4a4a" stroke-width="1.0" />
<line x1="423.8" y1="57.5" x2="398.8" y2="99.5" stroke="#4a4a4a" stroke-width="1.0" />
<line x1="623.6" y1="230.5" x2="634.2" y2="264.5" stroke="#4a4a4a" stroke-width="1.0" />
<line x1="988.8" y1="572.5" x2="972.0" y2="622.5" stroke="#4a4a4a" stroke-width="1.0" />
<line x1="1020.2" y1="655.5" x2="1004.2" y2="690.1" stroke="#4a4a4a" stroke-width="1.0" />
<line x1="905.0" y1="486.0" x2="891.0" y2="530.4" stroke="#4a4a4a" stroke-width="1.0" />
<polyline points="368.4,664.0 368.4,672.5 656.4,672.5 656.4,664.0" fill="none" stroke="#666" stroke-width="1.1" stroke-linejoin="round" />
<line x1="512.2" y1="672.5" x2="512.2" y2="681.5" stroke="#666" stroke-width="1.1" />
<circle cx="449.9" cy="666.6" r="5"/>
<circle cx="606.2" cy="666.6" r="5"/>
<polyline points="381.4,649.5 381.4,625.1 442.0,393.0" fill="none" stroke="#4a4a4a" stroke-width="1.0" stroke-linejoin="round" />
<polyline points="449.9,662.0 449.9,644.0 478.5,561.1" fill="none" stroke="#4a4a4a" stroke-width="1.0" stroke-linejoin="round" />
<polyline points="566.5,650.0 566.5,632.7 696.5,540.2" fill="none" stroke="#4a4a4a" stroke-width="1.0" stroke-linejoin="round" />
<polyline points="606.2,661.0 606.2,632.7 734.0,556.0" fill="none" stroke="#4a4a4a" stroke-width="1.0" stroke-linejoin="round" />
<polyline points="644.6,650.0 644.6,642.3 771.0,575.8" fill="none" stroke="#4a4a4a" stroke-width="1.0" stroke-linejoin="round" />
</svg>
</body></html>
